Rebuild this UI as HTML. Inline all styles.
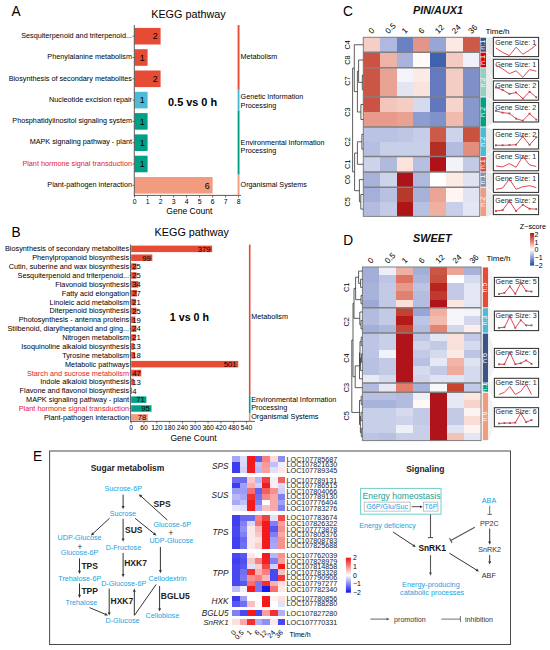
<!DOCTYPE html>
<html><head><meta charset="utf-8"><title>Figure</title>
<style>html,body{margin:0;padding:0;background:#fff;}svg{display:block;}
text{font-family:"Liberation Sans", sans-serif;}</style></head>
<body><svg width="550" height="650" viewBox="0 0 550 650">
<rect x="0" y="0" width="550" height="650" fill="#ffffff"/>
<text x="11.50" y="16.00" font-size="13.7" transform="translate(11.50 16.00) scale(1 1.1) translate(-11.50 -16.00)">A</text>
<text x="188.40" y="18.20" font-size="10.8" text-anchor="middle">KEGG pathway</text>
<rect x="134.60" y="27.90" width="26.00" height="16.60" fill="#E64B35"/>
<text x="132.00" y="37.90" font-size="7.25" text-anchor="end">Sesquiterpenoid and triterpenoid...</text>
<line x1="132.50" y1="36.20" x2="134.30" y2="36.20" stroke="#333" stroke-width="0.7"/>
<text x="157.80" y="39.40" font-size="8.9" text-anchor="end">2</text>
<rect x="134.60" y="49.20" width="13.00" height="16.60" fill="#E64B35"/>
<text x="132.00" y="59.20" font-size="7.25" text-anchor="end">Phenylalanine metabolism</text>
<line x1="132.50" y1="57.50" x2="134.30" y2="57.50" stroke="#333" stroke-width="0.7"/>
<text x="144.80" y="60.70" font-size="8.9" text-anchor="end">1</text>
<rect x="134.60" y="70.50" width="26.00" height="16.60" fill="#E64B35"/>
<text x="132.00" y="80.50" font-size="7.25" text-anchor="end">Biosynthesis of secondary metabolites</text>
<line x1="132.50" y1="78.80" x2="134.30" y2="78.80" stroke="#333" stroke-width="0.7"/>
<text x="157.80" y="82.00" font-size="8.9" text-anchor="end">2</text>
<rect x="134.60" y="91.80" width="13.00" height="16.60" fill="#4DBBD5"/>
<text x="132.00" y="101.80" font-size="7.25" text-anchor="end">Nucleotide excision repair</text>
<line x1="132.50" y1="100.10" x2="134.30" y2="100.10" stroke="#333" stroke-width="0.7"/>
<text x="144.80" y="103.30" font-size="8.9" text-anchor="end">1</text>
<rect x="134.60" y="113.10" width="13.00" height="16.60" fill="#00A087"/>
<text x="132.00" y="123.10" font-size="7.25" text-anchor="end">Phosphatidylinositol signaling system</text>
<line x1="132.50" y1="121.40" x2="134.30" y2="121.40" stroke="#333" stroke-width="0.7"/>
<text x="144.80" y="124.60" font-size="8.9" text-anchor="end">1</text>
<rect x="134.60" y="134.40" width="13.00" height="16.60" fill="#00A087"/>
<text x="132.00" y="144.40" font-size="7.25" text-anchor="end">MAPK signaling pathway - plant</text>
<line x1="132.50" y1="142.70" x2="134.30" y2="142.70" stroke="#333" stroke-width="0.7"/>
<text x="144.80" y="145.90" font-size="8.9" text-anchor="end">1</text>
<rect x="134.60" y="155.70" width="13.00" height="16.60" fill="#00A087"/>
<text x="132.00" y="165.70" font-size="7.25" text-anchor="end" fill="#E5202A">Plant hormone signal transduction</text>
<line x1="132.50" y1="164.00" x2="134.30" y2="164.00" stroke="#333" stroke-width="0.7"/>
<text x="144.80" y="167.20" font-size="8.9" text-anchor="end">1</text>
<rect x="134.60" y="177.00" width="78.00" height="16.60" fill="#F39B7F"/>
<text x="132.00" y="187.00" font-size="7.25" text-anchor="end">Plant-pathogen interaction</text>
<line x1="132.50" y1="185.30" x2="134.30" y2="185.30" stroke="#333" stroke-width="0.7"/>
<text x="209.80" y="188.50" font-size="8.9" text-anchor="end">6</text>
<line x1="134.30" y1="24.90" x2="134.30" y2="195.80" stroke="#333" stroke-width="0.8"/>
<line x1="133.90" y1="195.40" x2="241.00" y2="195.40" stroke="#333" stroke-width="0.8"/>
<line x1="134.60" y1="195.40" x2="134.60" y2="197.60" stroke="#333" stroke-width="0.7"/>
<text x="134.60" y="204.30" font-size="6.9" text-anchor="middle">0</text>
<line x1="147.60" y1="195.40" x2="147.60" y2="197.60" stroke="#333" stroke-width="0.7"/>
<text x="147.60" y="204.30" font-size="6.9" text-anchor="middle">1</text>
<line x1="160.60" y1="195.40" x2="160.60" y2="197.60" stroke="#333" stroke-width="0.7"/>
<text x="160.60" y="204.30" font-size="6.9" text-anchor="middle">2</text>
<line x1="173.60" y1="195.40" x2="173.60" y2="197.60" stroke="#333" stroke-width="0.7"/>
<text x="173.60" y="204.30" font-size="6.9" text-anchor="middle">3</text>
<line x1="186.60" y1="195.40" x2="186.60" y2="197.60" stroke="#333" stroke-width="0.7"/>
<text x="186.60" y="204.30" font-size="6.9" text-anchor="middle">4</text>
<line x1="199.60" y1="195.40" x2="199.60" y2="197.60" stroke="#333" stroke-width="0.7"/>
<text x="199.60" y="204.30" font-size="6.9" text-anchor="middle">5</text>
<line x1="212.60" y1="195.40" x2="212.60" y2="197.60" stroke="#333" stroke-width="0.7"/>
<text x="212.60" y="204.30" font-size="6.9" text-anchor="middle">6</text>
<line x1="225.60" y1="195.40" x2="225.60" y2="197.60" stroke="#333" stroke-width="0.7"/>
<text x="225.60" y="204.30" font-size="6.9" text-anchor="middle">7</text>
<line x1="238.60" y1="195.40" x2="238.60" y2="197.60" stroke="#333" stroke-width="0.7"/>
<text x="238.60" y="204.30" font-size="6.9" text-anchor="middle">8</text>
<text x="189.30" y="213.60" font-size="8.55" text-anchor="middle">Gene Count</text>
<text x="192.60" y="106.10" font-size="10.9" text-anchor="middle" font-weight="bold">0.5 vs 0 h</text>
<rect x="237.60" y="25.10" width="1.90" height="64.70" fill="#E64B35"/>
<rect x="237.60" y="89.80" width="1.90" height="20.80" fill="#4DBBD5"/>
<rect x="237.60" y="110.60" width="1.90" height="64.00" fill="#00A087"/>
<rect x="237.60" y="174.60" width="1.90" height="20.70" fill="#F39B7F"/>
<text x="240.60" y="59.40" font-size="7.2">Metabolism</text>
<text x="240.60" y="99.20" font-size="7.2">Genetic Information</text>
<text x="240.60" y="107.80" font-size="7.2">Processing</text>
<text x="240.60" y="144.80" font-size="7.2">Environmental Information</text>
<text x="240.60" y="153.40" font-size="7.2">Processing</text>
<text x="240.60" y="187.00" font-size="7.2">Organismal Systems</text>
<text x="11.40" y="237.50" font-size="13.7" transform="translate(11.40 237.50) scale(1 1.1) translate(-11.40 -237.50)">B</text>
<text x="191.80" y="236.30" font-size="10.8" text-anchor="middle">KEGG pathway</text>
<rect x="131.20" y="245.60" width="80.95" height="6.50" fill="#E64B35"/>
<text x="129.10" y="251.35" font-size="7.3" text-anchor="end">Biosynthesis of secondary metabolites</text>
<line x1="129.60" y1="248.85" x2="130.60" y2="248.85" stroke="#333" stroke-width="0.6"/>
<text x="210.55" y="251.65" font-size="7.7" text-anchor="end">379</text>
<rect x="131.20" y="254.47" width="21.15" height="6.50" fill="#E64B35"/>
<text x="129.10" y="260.22" font-size="7.3" text-anchor="end">Phenylpropanoid biosynthesis</text>
<line x1="129.60" y1="257.72" x2="130.60" y2="257.72" stroke="#333" stroke-width="0.6"/>
<text x="150.75" y="260.52" font-size="7.7" text-anchor="end">99</text>
<rect x="131.20" y="263.34" width="5.34" height="6.50" fill="#E64B35"/>
<text x="129.10" y="269.09" font-size="7.3" text-anchor="end">Cutin, suberine and wax biosynthesis</text>
<line x1="129.60" y1="266.59" x2="130.60" y2="266.59" stroke="#333" stroke-width="0.6"/>
<text x="140.86" y="269.39" font-size="7.7" text-anchor="end">25</text>
<rect x="131.20" y="272.21" width="5.34" height="6.50" fill="#E64B35"/>
<text x="129.10" y="277.96" font-size="7.3" text-anchor="end">Sesquiterpenoid and triterpenoid...</text>
<line x1="129.60" y1="275.46" x2="130.60" y2="275.46" stroke="#333" stroke-width="0.6"/>
<text x="140.86" y="278.26" font-size="7.7" text-anchor="end">25</text>
<rect x="131.20" y="281.08" width="7.26" height="6.50" fill="#E64B35"/>
<text x="129.10" y="286.83" font-size="7.3" text-anchor="end">Flavonoid biosynthesis</text>
<line x1="129.60" y1="284.33" x2="130.60" y2="284.33" stroke="#333" stroke-width="0.6"/>
<text x="140.86" y="287.13" font-size="7.7" text-anchor="end">34</text>
<rect x="131.20" y="289.95" width="5.77" height="6.50" fill="#E64B35"/>
<text x="129.10" y="295.70" font-size="7.3" text-anchor="end">Fatty acid elongation</text>
<line x1="129.60" y1="293.20" x2="130.60" y2="293.20" stroke="#333" stroke-width="0.6"/>
<text x="140.86" y="296.00" font-size="7.7" text-anchor="end">27</text>
<rect x="131.20" y="298.82" width="4.49" height="6.50" fill="#E64B35"/>
<text x="129.10" y="304.57" font-size="7.3" text-anchor="end">Linoleic acid metabolism</text>
<line x1="129.60" y1="302.07" x2="130.60" y2="302.07" stroke="#333" stroke-width="0.6"/>
<text x="140.86" y="304.87" font-size="7.7" text-anchor="end">21</text>
<rect x="131.20" y="307.69" width="5.34" height="6.50" fill="#E64B35"/>
<text x="129.10" y="313.44" font-size="7.3" text-anchor="end">Diterpenoid biosynthesis</text>
<line x1="129.60" y1="310.94" x2="130.60" y2="310.94" stroke="#333" stroke-width="0.6"/>
<text x="140.86" y="313.74" font-size="7.7" text-anchor="end">25</text>
<rect x="131.20" y="316.56" width="4.06" height="6.50" fill="#E64B35"/>
<text x="129.10" y="322.31" font-size="7.3" text-anchor="end">Photosynthesis - antenna proteins</text>
<line x1="129.60" y1="319.81" x2="130.60" y2="319.81" stroke="#333" stroke-width="0.6"/>
<text x="140.86" y="322.61" font-size="7.7" text-anchor="end">19</text>
<rect x="131.20" y="325.43" width="5.13" height="6.50" fill="#E64B35"/>
<text x="129.10" y="331.18" font-size="7.3" text-anchor="end">Stilbenoid, diarylheptanoid and ging...</text>
<line x1="129.60" y1="328.68" x2="130.60" y2="328.68" stroke="#333" stroke-width="0.6"/>
<text x="140.86" y="331.48" font-size="7.7" text-anchor="end">24</text>
<rect x="131.20" y="334.30" width="4.49" height="6.50" fill="#E64B35"/>
<text x="129.10" y="340.05" font-size="7.3" text-anchor="end">Nitrogen metabolism</text>
<line x1="129.60" y1="337.55" x2="130.60" y2="337.55" stroke="#333" stroke-width="0.6"/>
<text x="140.86" y="340.35" font-size="7.7" text-anchor="end">21</text>
<rect x="131.20" y="343.17" width="2.78" height="6.50" fill="#E64B35"/>
<text x="129.10" y="348.92" font-size="7.3" text-anchor="end">Isoquinoline alkaloid biosynthesis</text>
<line x1="129.60" y1="346.42" x2="130.60" y2="346.42" stroke="#333" stroke-width="0.6"/>
<text x="140.86" y="349.22" font-size="7.7" text-anchor="end">13</text>
<rect x="131.20" y="352.04" width="3.84" height="6.50" fill="#E64B35"/>
<text x="129.10" y="357.79" font-size="7.3" text-anchor="end">Tyrosine metabolism</text>
<line x1="129.60" y1="355.29" x2="130.60" y2="355.29" stroke="#333" stroke-width="0.6"/>
<text x="140.86" y="358.09" font-size="7.7" text-anchor="end">18</text>
<rect x="131.20" y="360.91" width="107.01" height="6.50" fill="#E64B35"/>
<text x="129.10" y="366.66" font-size="7.3" text-anchor="end">Metabolic pathways</text>
<line x1="129.60" y1="364.16" x2="130.60" y2="364.16" stroke="#333" stroke-width="0.6"/>
<text x="236.61" y="366.96" font-size="7.7" text-anchor="end">501</text>
<rect x="131.20" y="369.78" width="10.04" height="6.50" fill="#E64B35"/>
<text x="129.10" y="375.53" font-size="7.3" text-anchor="end" fill="#E5202A">Starch and sucrose metabolism</text>
<line x1="129.60" y1="373.03" x2="130.60" y2="373.03" stroke="#333" stroke-width="0.6"/>
<text x="140.86" y="375.83" font-size="7.7" text-anchor="end">47</text>
<rect x="131.20" y="378.65" width="2.78" height="6.50" fill="#E64B35"/>
<text x="129.10" y="384.40" font-size="7.3" text-anchor="end">Indole alkaloid biosynthesis</text>
<line x1="129.60" y1="381.90" x2="130.60" y2="381.90" stroke="#333" stroke-width="0.6"/>
<text x="140.86" y="384.70" font-size="7.7" text-anchor="end">13</text>
<rect x="131.20" y="387.52" width="0.85" height="6.50" fill="#E64B35"/>
<text x="129.10" y="393.27" font-size="7.3" text-anchor="end">Flavone and flavonol biosynthesis</text>
<line x1="129.60" y1="390.77" x2="130.60" y2="390.77" stroke="#333" stroke-width="0.6"/>
<text x="136.58" y="393.57" font-size="7.7" text-anchor="end">4</text>
<rect x="131.20" y="396.39" width="15.17" height="6.50" fill="#00A087"/>
<text x="129.10" y="402.14" font-size="7.3" text-anchor="end">MAPK signaling pathway - plant</text>
<line x1="129.60" y1="399.64" x2="130.60" y2="399.64" stroke="#333" stroke-width="0.6"/>
<text x="144.77" y="402.44" font-size="7.7" text-anchor="end">71</text>
<rect x="131.20" y="405.26" width="20.29" height="6.50" fill="#00A087"/>
<text x="129.10" y="411.01" font-size="7.3" text-anchor="end" fill="#E5202A">Plant hormone signal transduction</text>
<line x1="129.60" y1="408.51" x2="130.60" y2="408.51" stroke="#333" stroke-width="0.6"/>
<text x="149.89" y="411.31" font-size="7.7" text-anchor="end">95</text>
<rect x="131.20" y="414.13" width="16.66" height="6.50" fill="#F39B7F"/>
<text x="129.10" y="419.88" font-size="7.3" text-anchor="end">Plant-pathogen interaction</text>
<line x1="129.60" y1="417.38" x2="130.60" y2="417.38" stroke="#333" stroke-width="0.6"/>
<text x="146.26" y="420.18" font-size="7.7" text-anchor="end">78</text>
<line x1="130.60" y1="244.50" x2="130.60" y2="421.80" stroke="#333" stroke-width="0.8"/>
<line x1="130.20" y1="421.40" x2="255.00" y2="421.40" stroke="#333" stroke-width="0.8"/>
<line x1="131.20" y1="421.40" x2="131.20" y2="423.40" stroke="#333" stroke-width="0.7"/>
<text x="131.20" y="429.80" font-size="6.8" text-anchor="middle">0</text>
<line x1="144.02" y1="421.40" x2="144.02" y2="423.40" stroke="#333" stroke-width="0.7"/>
<text x="144.02" y="429.80" font-size="6.8" text-anchor="middle">60</text>
<line x1="156.83" y1="421.40" x2="156.83" y2="423.40" stroke="#333" stroke-width="0.7"/>
<text x="156.83" y="429.80" font-size="6.8" text-anchor="middle">120</text>
<line x1="169.65" y1="421.40" x2="169.65" y2="423.40" stroke="#333" stroke-width="0.7"/>
<text x="169.65" y="429.80" font-size="6.8" text-anchor="middle">180</text>
<line x1="182.46" y1="421.40" x2="182.46" y2="423.40" stroke="#333" stroke-width="0.7"/>
<text x="182.46" y="429.80" font-size="6.8" text-anchor="middle">240</text>
<line x1="195.28" y1="421.40" x2="195.28" y2="423.40" stroke="#333" stroke-width="0.7"/>
<text x="195.28" y="429.80" font-size="6.8" text-anchor="middle">300</text>
<line x1="208.10" y1="421.40" x2="208.10" y2="423.40" stroke="#333" stroke-width="0.7"/>
<text x="208.10" y="429.80" font-size="6.8" text-anchor="middle">360</text>
<line x1="220.91" y1="421.40" x2="220.91" y2="423.40" stroke="#333" stroke-width="0.7"/>
<text x="220.91" y="429.80" font-size="6.8" text-anchor="middle">420</text>
<line x1="233.73" y1="421.40" x2="233.73" y2="423.40" stroke="#333" stroke-width="0.7"/>
<text x="233.73" y="429.80" font-size="6.8" text-anchor="middle">480</text>
<line x1="246.54" y1="421.40" x2="246.54" y2="423.40" stroke="#333" stroke-width="0.7"/>
<text x="246.54" y="429.80" font-size="6.8" text-anchor="middle">540</text>
<text x="193.50" y="440.90" font-size="8.55" text-anchor="middle">Gene Count</text>
<text x="189.40" y="321.20" font-size="10.7" text-anchor="middle" font-weight="bold">1 vs 0 h</text>
<rect x="248.90" y="244.60" width="1.60" height="150.60" fill="#E64B35"/>
<rect x="248.90" y="395.20" width="1.60" height="17.80" fill="#00A087"/>
<rect x="248.90" y="413.00" width="1.60" height="8.30" fill="#F39B7F"/>
<text x="251.20" y="319.20" font-size="7.2">Metabolism</text>
<text x="251.20" y="401.90" font-size="7.3">Environmental Information</text>
<text x="251.20" y="410.10" font-size="7.3">Processing</text>
<text x="251.20" y="418.70" font-size="7.3">Organismal Systems</text>
<text x="342.90" y="16.10" font-size="13.7" transform="translate(342.90 16.10) scale(1 1.1) translate(-342.90 -16.10)">C</text>
<text x="413.10" y="14.40" font-size="10.8" font-weight="bold" font-style="italic" fill="#111">PIN/AUX1</text>
<text x="371.81" y="34.30" font-size="8.1" transform="rotate(-45 371.81 34.30)">0</text>
<text x="388.44" y="34.30" font-size="8.1" transform="rotate(-45 388.44 34.30)">0.5</text>
<text x="405.07" y="34.30" font-size="8.1" transform="rotate(-45 405.07 34.30)">1</text>
<text x="421.70" y="34.30" font-size="8.1" transform="rotate(-45 421.70 34.30)">6</text>
<text x="438.33" y="34.30" font-size="8.1" transform="rotate(-45 438.33 34.30)">12</text>
<text x="454.96" y="34.30" font-size="8.1" transform="rotate(-45 454.96 34.30)">24</text>
<text x="471.59" y="34.30" font-size="8.1" transform="rotate(-45 471.59 34.30)">36</text>
<text x="485.40" y="33.60" font-size="8.0">Time/h</text>
<rect x="363.30" y="37.30" width="116.41" height="14.90" fill="#F5CFC6" shape-rendering="crispEdges"/>
<rect x="379.93" y="37.30" width="99.78" height="14.90" fill="#AFB8DE" shape-rendering="crispEdges"/>
<rect x="396.56" y="37.30" width="83.15" height="14.90" fill="#6A82C4" shape-rendering="crispEdges"/>
<rect x="413.19" y="37.30" width="66.52" height="14.90" fill="#E4958A" shape-rendering="crispEdges"/>
<rect x="429.82" y="37.30" width="49.89" height="14.90" fill="#98A6D5" shape-rendering="crispEdges"/>
<rect x="446.45" y="37.30" width="33.26" height="14.90" fill="#FCE9E4" shape-rendering="crispEdges"/>
<rect x="463.08" y="37.30" width="16.63" height="14.90" fill="#CD5A48" shape-rendering="crispEdges"/>
<rect x="480.50" y="37.75" width="5.50" height="14.00" fill="#3C5488"/>
<text x="485.15" y="44.75" font-size="7.2" text-anchor="middle" fill="#ffffff" transform="rotate(-90 485.15 44.75)">n:1</text>
<text x="349.90" y="44.75" font-size="7.3" text-anchor="middle" transform="rotate(-90 349.90 44.75)">C4</text>
<rect x="363.30" y="52.20" width="116.41" height="15.60" fill="#CC5343" shape-rendering="crispEdges"/>
<rect x="379.93" y="52.20" width="99.78" height="15.60" fill="#EDB3A6" shape-rendering="crispEdges"/>
<rect x="396.56" y="52.20" width="83.15" height="15.60" fill="#A9B3DB" shape-rendering="crispEdges"/>
<rect x="413.19" y="52.20" width="66.52" height="15.60" fill="#FFFAF8" shape-rendering="crispEdges"/>
<rect x="429.82" y="52.20" width="49.89" height="15.60" fill="#3E62B0" shape-rendering="crispEdges"/>
<rect x="446.45" y="52.20" width="33.26" height="15.60" fill="#F4CBC1" shape-rendering="crispEdges"/>
<rect x="463.08" y="52.20" width="16.63" height="15.60" fill="#EEEFF8" shape-rendering="crispEdges"/>
<rect x="480.50" y="52.65" width="5.50" height="14.70" fill="#DC0000"/>
<text x="485.15" y="60.00" font-size="7.2" text-anchor="middle" fill="#ffffff" transform="rotate(-90 485.15 60.00)">n:1</text>
<text x="349.90" y="60.00" font-size="7.3" text-anchor="middle" transform="rotate(-90 349.90 60.00)">C8</text>
<rect x="363.30" y="67.80" width="116.41" height="29.20" fill="#CC5646" shape-rendering="crispEdges"/>
<rect x="379.93" y="67.80" width="99.78" height="29.20" fill="#E9A394" shape-rendering="crispEdges"/>
<rect x="396.56" y="67.80" width="83.15" height="29.20" fill="#F4F4FA" shape-rendering="crispEdges"/>
<rect x="413.19" y="67.80" width="66.52" height="29.20" fill="#FBEBE7" shape-rendering="crispEdges"/>
<rect x="429.82" y="67.80" width="49.89" height="29.20" fill="#6479BE" shape-rendering="crispEdges"/>
<rect x="446.45" y="67.80" width="33.26" height="29.20" fill="#F3CDC4" shape-rendering="crispEdges"/>
<rect x="463.08" y="67.80" width="16.63" height="29.20" fill="#7F90C9" shape-rendering="crispEdges"/>
<rect x="363.30" y="82.40" width="116.41" height="14.60" fill="#CC5646" shape-rendering="crispEdges"/>
<rect x="379.93" y="82.40" width="99.78" height="14.60" fill="#E9A394" shape-rendering="crispEdges"/>
<rect x="396.56" y="82.40" width="83.15" height="14.60" fill="#E3E5F2" shape-rendering="crispEdges"/>
<rect x="413.19" y="82.40" width="66.52" height="14.60" fill="#F9E3DC" shape-rendering="crispEdges"/>
<rect x="429.82" y="82.40" width="49.89" height="14.60" fill="#6479BE" shape-rendering="crispEdges"/>
<rect x="446.45" y="82.40" width="33.26" height="14.60" fill="#F3CDC4" shape-rendering="crispEdges"/>
<rect x="463.08" y="82.40" width="16.63" height="14.60" fill="#7F90C9" shape-rendering="crispEdges"/>
<rect x="480.50" y="68.25" width="5.50" height="28.30" fill="#91D1C2"/>
<text x="485.15" y="82.40" font-size="7.2" text-anchor="middle" fill="#ffffff" transform="rotate(-90 485.15 82.40)">n:2</text>
<text x="349.90" y="81.10" font-size="7.3" text-anchor="middle" transform="rotate(-90 349.90 81.10)">C7</text>
<rect x="363.30" y="97.00" width="116.41" height="30.00" fill="#CB5244" shape-rendering="crispEdges"/>
<rect x="379.93" y="97.00" width="99.78" height="30.00" fill="#F3C5BB" shape-rendering="crispEdges"/>
<rect x="396.56" y="97.00" width="83.15" height="30.00" fill="#F5CDC4" shape-rendering="crispEdges"/>
<rect x="413.19" y="97.00" width="66.52" height="30.00" fill="#D5DAEE" shape-rendering="crispEdges"/>
<rect x="429.82" y="97.00" width="49.89" height="30.00" fill="#6277BD" shape-rendering="crispEdges"/>
<rect x="446.45" y="97.00" width="33.26" height="30.00" fill="#F6D3CB" shape-rendering="crispEdges"/>
<rect x="463.08" y="97.00" width="16.63" height="30.00" fill="#8898CC" shape-rendering="crispEdges"/>
<rect x="363.30" y="112.00" width="116.41" height="15.00" fill="#E89A8C" shape-rendering="crispEdges"/>
<rect x="379.93" y="112.00" width="99.78" height="15.00" fill="#E89A8C" shape-rendering="crispEdges"/>
<rect x="396.56" y="112.00" width="83.15" height="15.00" fill="#E9A292" shape-rendering="crispEdges"/>
<rect x="413.19" y="112.00" width="66.52" height="15.00" fill="#8C9DD0" shape-rendering="crispEdges"/>
<rect x="429.82" y="112.00" width="49.89" height="15.00" fill="#8191CA" shape-rendering="crispEdges"/>
<rect x="446.45" y="112.00" width="33.26" height="15.00" fill="#F0BBAE" shape-rendering="crispEdges"/>
<rect x="463.08" y="112.00" width="16.63" height="15.00" fill="#8898CC" shape-rendering="crispEdges"/>
<rect x="480.50" y="97.45" width="5.50" height="29.10" fill="#00A087"/>
<text x="485.15" y="112.00" font-size="7.2" text-anchor="middle" fill="#ffffff" transform="rotate(-90 485.15 112.00)">n:2</text>
<text x="349.90" y="112.00" font-size="7.3" text-anchor="middle" transform="rotate(-90 349.90 112.00)">C3</text>
<rect x="363.30" y="127.00" width="116.41" height="29.60" fill="#BAC3E3" shape-rendering="crispEdges"/>
<rect x="379.93" y="127.00" width="99.78" height="29.60" fill="#BAC3E3" shape-rendering="crispEdges"/>
<rect x="396.56" y="127.00" width="83.15" height="29.60" fill="#BDC6E5" shape-rendering="crispEdges"/>
<rect x="413.19" y="127.00" width="66.52" height="29.60" fill="#C6CDE8" shape-rendering="crispEdges"/>
<rect x="429.82" y="127.00" width="49.89" height="29.60" fill="#CC5A48" shape-rendering="crispEdges"/>
<rect x="446.45" y="127.00" width="33.26" height="29.60" fill="#CDD3EB" shape-rendering="crispEdges"/>
<rect x="463.08" y="127.00" width="16.63" height="29.60" fill="#C9513F" shape-rendering="crispEdges"/>
<rect x="363.30" y="141.80" width="116.41" height="14.80" fill="#B5BFE1" shape-rendering="crispEdges"/>
<rect x="379.93" y="141.80" width="99.78" height="14.80" fill="#C8CFE9" shape-rendering="crispEdges"/>
<rect x="396.56" y="141.80" width="83.15" height="14.80" fill="#C8CFE9" shape-rendering="crispEdges"/>
<rect x="413.19" y="141.80" width="66.52" height="14.80" fill="#C8CFE9" shape-rendering="crispEdges"/>
<rect x="429.82" y="141.80" width="49.89" height="14.80" fill="#B52E24" shape-rendering="crispEdges"/>
<rect x="446.45" y="141.80" width="33.26" height="14.80" fill="#B3BCDF" shape-rendering="crispEdges"/>
<rect x="463.08" y="141.80" width="16.63" height="14.80" fill="#E28D7E" shape-rendering="crispEdges"/>
<rect x="480.50" y="127.45" width="5.50" height="28.70" fill="#4DBBD5"/>
<text x="485.15" y="141.80" font-size="7.2" text-anchor="middle" fill="#ffffff" transform="rotate(-90 485.15 141.80)">n:2</text>
<text x="349.90" y="141.80" font-size="7.3" text-anchor="middle" transform="rotate(-90 349.90 141.80)">C2</text>
<rect x="363.30" y="156.60" width="116.41" height="15.40" fill="#CDD3EB" shape-rendering="crispEdges"/>
<rect x="379.93" y="156.60" width="99.78" height="15.40" fill="#B0BADD" shape-rendering="crispEdges"/>
<rect x="396.56" y="156.60" width="83.15" height="15.40" fill="#FCE3DC" shape-rendering="crispEdges"/>
<rect x="413.19" y="156.60" width="66.52" height="15.40" fill="#B6BFE1" shape-rendering="crispEdges"/>
<rect x="429.82" y="156.60" width="49.89" height="15.40" fill="#B01018" shape-rendering="crispEdges"/>
<rect x="446.45" y="156.60" width="33.26" height="15.40" fill="#F2F3F9" shape-rendering="crispEdges"/>
<rect x="463.08" y="156.60" width="16.63" height="15.40" fill="#C3CAE6" shape-rendering="crispEdges"/>
<rect x="480.50" y="157.05" width="5.50" height="14.50" fill="#E64B35"/>
<text x="485.15" y="164.30" font-size="7.2" text-anchor="middle" fill="#ffffff" transform="rotate(-90 485.15 164.30)">n:1</text>
<text x="349.90" y="164.30" font-size="7.3" text-anchor="middle" transform="rotate(-90 349.90 164.30)">C1</text>
<rect x="363.30" y="172.00" width="116.41" height="15.20" fill="#A8B3DA" shape-rendering="crispEdges"/>
<rect x="379.93" y="172.00" width="99.78" height="15.20" fill="#CDD3EB" shape-rendering="crispEdges"/>
<rect x="396.56" y="172.00" width="83.15" height="15.20" fill="#AE1319" shape-rendering="crispEdges"/>
<rect x="413.19" y="172.00" width="66.52" height="15.20" fill="#AFB8DD" shape-rendering="crispEdges"/>
<rect x="429.82" y="172.00" width="49.89" height="15.20" fill="#FFFFFF" shape-rendering="crispEdges"/>
<rect x="446.45" y="172.00" width="33.26" height="15.20" fill="#FCEAE5" shape-rendering="crispEdges"/>
<rect x="463.08" y="172.00" width="16.63" height="15.20" fill="#DFE2F1" shape-rendering="crispEdges"/>
<rect x="480.50" y="172.45" width="5.50" height="14.30" fill="#8491B4"/>
<text x="485.15" y="179.60" font-size="7.2" text-anchor="middle" fill="#ffffff" transform="rotate(-90 485.15 179.60)">n:1</text>
<text x="349.90" y="179.60" font-size="7.3" text-anchor="middle" transform="rotate(-90 349.90 179.60)">C6</text>
<rect x="363.30" y="187.20" width="116.41" height="29.20" fill="#A5B0D8" shape-rendering="crispEdges"/>
<rect x="379.93" y="187.20" width="99.78" height="29.20" fill="#B9C1E2" shape-rendering="crispEdges"/>
<rect x="396.56" y="187.20" width="83.15" height="29.20" fill="#B53A2A" shape-rendering="crispEdges"/>
<rect x="413.19" y="187.20" width="66.52" height="29.20" fill="#A7B2D9" shape-rendering="crispEdges"/>
<rect x="429.82" y="187.20" width="49.89" height="29.20" fill="#EAA596" shape-rendering="crispEdges"/>
<rect x="446.45" y="187.20" width="33.26" height="29.20" fill="#FFF5F2" shape-rendering="crispEdges"/>
<rect x="463.08" y="187.20" width="16.63" height="29.20" fill="#E0E3F1" shape-rendering="crispEdges"/>
<rect x="363.30" y="201.80" width="116.41" height="14.60" fill="#B3BCDF" shape-rendering="crispEdges"/>
<rect x="379.93" y="201.80" width="99.78" height="14.60" fill="#C4CBE7" shape-rendering="crispEdges"/>
<rect x="396.56" y="201.80" width="83.15" height="14.60" fill="#B01418" shape-rendering="crispEdges"/>
<rect x="413.19" y="201.80" width="66.52" height="14.60" fill="#B9C1E2" shape-rendering="crispEdges"/>
<rect x="429.82" y="201.80" width="49.89" height="14.60" fill="#EFB0A2" shape-rendering="crispEdges"/>
<rect x="446.45" y="201.80" width="33.26" height="14.60" fill="#C8CFE9" shape-rendering="crispEdges"/>
<rect x="463.08" y="201.80" width="16.63" height="14.60" fill="#E3E6F3" shape-rendering="crispEdges"/>
<rect x="480.50" y="187.65" width="5.50" height="28.30" fill="#F39B7F"/>
<text x="485.15" y="201.80" font-size="7.2" text-anchor="middle" fill="#ffffff" transform="rotate(-90 485.15 201.80)">n:2</text>
<text x="349.90" y="201.80" font-size="7.3" text-anchor="middle" transform="rotate(-90 349.90 201.80)">C5</text>
<line x1="363.30" y1="52.20" x2="479.71" y2="52.20" stroke="#808080" stroke-width="1.5"/>
<line x1="363.30" y1="67.80" x2="479.71" y2="67.80" stroke="#808080" stroke-width="1.5"/>
<line x1="363.30" y1="97.00" x2="479.71" y2="97.00" stroke="#808080" stroke-width="1.5"/>
<line x1="363.30" y1="127.00" x2="479.71" y2="127.00" stroke="#808080" stroke-width="1.5"/>
<line x1="363.30" y1="156.60" x2="479.71" y2="156.60" stroke="#808080" stroke-width="1.5"/>
<line x1="363.30" y1="172.00" x2="479.71" y2="172.00" stroke="#808080" stroke-width="1.5"/>
<line x1="363.30" y1="187.20" x2="479.71" y2="187.20" stroke="#808080" stroke-width="1.5"/>
<rect x="363.30" y="37.30" width="116.41" height="179.10" fill="none" stroke="#808080" stroke-width="1"/>
<text x="343.20" y="244.80" font-size="13.7" transform="translate(343.20 244.80) scale(1 1.1) translate(-343.20 -244.80)">D</text>
<text x="413.10" y="241.80" font-size="10.8" font-weight="bold" font-style="italic" fill="#111">SWEET</text>
<text x="371.07" y="264.10" font-size="8.1" transform="rotate(-45 371.07 264.10)">0</text>
<text x="388.02" y="264.10" font-size="8.1" transform="rotate(-45 388.02 264.10)">0.5</text>
<text x="404.97" y="264.10" font-size="8.1" transform="rotate(-45 404.97 264.10)">1</text>
<text x="421.92" y="264.10" font-size="8.1" transform="rotate(-45 421.92 264.10)">6</text>
<text x="438.87" y="264.10" font-size="8.1" transform="rotate(-45 438.87 264.10)">12</text>
<text x="455.82" y="264.10" font-size="8.1" transform="rotate(-45 455.82 264.10)">24</text>
<text x="472.77" y="264.10" font-size="8.1" transform="rotate(-45 472.77 264.10)">36</text>
<text x="486.40" y="261.40" font-size="8.0">Time/h</text>
<rect x="362.40" y="267.00" width="118.65" height="40.80" fill="#A3AFD8" shape-rendering="crispEdges"/>
<rect x="379.35" y="267.00" width="101.70" height="40.80" fill="#EDEEF7" shape-rendering="crispEdges"/>
<rect x="396.30" y="267.00" width="84.75" height="40.80" fill="#EDB0A4" shape-rendering="crispEdges"/>
<rect x="413.25" y="267.00" width="67.80" height="40.80" fill="#A3AFD8" shape-rendering="crispEdges"/>
<rect x="430.20" y="267.00" width="50.85" height="40.80" fill="#CC5646" shape-rendering="crispEdges"/>
<rect x="447.15" y="267.00" width="33.90" height="40.80" fill="#EBA395" shape-rendering="crispEdges"/>
<rect x="464.10" y="267.00" width="16.95" height="40.80" fill="#A9B3DA" shape-rendering="crispEdges"/>
<rect x="362.40" y="275.16" width="118.65" height="32.64" fill="#A3AFD8" shape-rendering="crispEdges"/>
<rect x="379.35" y="275.16" width="101.70" height="32.64" fill="#BCC5E4" shape-rendering="crispEdges"/>
<rect x="396.30" y="275.16" width="84.75" height="32.64" fill="#DE7363" shape-rendering="crispEdges"/>
<rect x="413.25" y="275.16" width="67.80" height="32.64" fill="#ABB6DB" shape-rendering="crispEdges"/>
<rect x="430.20" y="275.16" width="50.85" height="32.64" fill="#C84E3E" shape-rendering="crispEdges"/>
<rect x="447.15" y="275.16" width="33.90" height="32.64" fill="#FFFFFF" shape-rendering="crispEdges"/>
<rect x="464.10" y="275.16" width="16.95" height="32.64" fill="#D5DAEE" shape-rendering="crispEdges"/>
<rect x="362.40" y="283.32" width="118.65" height="24.48" fill="#A8B3DA" shape-rendering="crispEdges"/>
<rect x="379.35" y="283.32" width="101.70" height="24.48" fill="#C3CAE6" shape-rendering="crispEdges"/>
<rect x="396.30" y="283.32" width="84.75" height="24.48" fill="#E8998A" shape-rendering="crispEdges"/>
<rect x="413.25" y="283.32" width="67.80" height="24.48" fill="#BCC4E3" shape-rendering="crispEdges"/>
<rect x="430.20" y="283.32" width="50.85" height="24.48" fill="#B82420" shape-rendering="crispEdges"/>
<rect x="447.15" y="283.32" width="33.90" height="24.48" fill="#C3CAE6" shape-rendering="crispEdges"/>
<rect x="464.10" y="283.32" width="16.95" height="24.48" fill="#E3E6F3" shape-rendering="crispEdges"/>
<rect x="362.40" y="291.48" width="118.65" height="16.32" fill="#A8B3DA" shape-rendering="crispEdges"/>
<rect x="379.35" y="291.48" width="101.70" height="16.32" fill="#C3CAE6" shape-rendering="crispEdges"/>
<rect x="396.30" y="291.48" width="84.75" height="16.32" fill="#E1806F" shape-rendering="crispEdges"/>
<rect x="413.25" y="291.48" width="67.80" height="16.32" fill="#B4BDE0" shape-rendering="crispEdges"/>
<rect x="430.20" y="291.48" width="50.85" height="16.32" fill="#C0392E" shape-rendering="crispEdges"/>
<rect x="447.15" y="291.48" width="33.90" height="16.32" fill="#C3CAE6" shape-rendering="crispEdges"/>
<rect x="464.10" y="291.48" width="16.95" height="16.32" fill="#E3E6F3" shape-rendering="crispEdges"/>
<rect x="362.40" y="299.64" width="118.65" height="8.16" fill="#9EAAD6" shape-rendering="crispEdges"/>
<rect x="379.35" y="299.64" width="101.70" height="8.16" fill="#C0C8E5" shape-rendering="crispEdges"/>
<rect x="396.30" y="299.64" width="84.75" height="8.16" fill="#FBE0D8" shape-rendering="crispEdges"/>
<rect x="413.25" y="299.64" width="67.80" height="8.16" fill="#B4BDE0" shape-rendering="crispEdges"/>
<rect x="430.20" y="299.64" width="50.85" height="8.16" fill="#B0141A" shape-rendering="crispEdges"/>
<rect x="447.15" y="299.64" width="33.90" height="8.16" fill="#FBE6E0" shape-rendering="crispEdges"/>
<rect x="464.10" y="299.64" width="16.95" height="8.16" fill="#E3E6F3" shape-rendering="crispEdges"/>
<rect x="482.80" y="267.45" width="5.40" height="39.90" fill="#E64B35"/>
<text x="487.40" y="287.40" font-size="7.2" text-anchor="middle" fill="#ffffff" transform="rotate(-90 487.40 287.40)">n:5</text>
<text x="348.60" y="287.40" font-size="7.3" text-anchor="middle" transform="rotate(-90 348.60 287.40)">C1</text>
<rect x="362.40" y="307.80" width="118.65" height="25.30" fill="#B3BCDF" shape-rendering="crispEdges"/>
<rect x="379.35" y="307.80" width="101.70" height="25.30" fill="#C3CAE6" shape-rendering="crispEdges"/>
<rect x="396.30" y="307.80" width="84.75" height="25.30" fill="#C24331" shape-rendering="crispEdges"/>
<rect x="413.25" y="307.80" width="67.80" height="25.30" fill="#98A6D5" shape-rendering="crispEdges"/>
<rect x="430.20" y="307.80" width="50.85" height="25.30" fill="#EFB0A2" shape-rendering="crispEdges"/>
<rect x="447.15" y="307.80" width="33.90" height="25.30" fill="#F5F5FA" shape-rendering="crispEdges"/>
<rect x="464.10" y="307.80" width="16.95" height="25.30" fill="#F3F4F9" shape-rendering="crispEdges"/>
<rect x="362.40" y="316.23" width="118.65" height="16.87" fill="#B3BCDF" shape-rendering="crispEdges"/>
<rect x="379.35" y="316.23" width="101.70" height="16.87" fill="#C3CAE6" shape-rendering="crispEdges"/>
<rect x="396.30" y="316.23" width="84.75" height="16.87" fill="#B51A1B" shape-rendering="crispEdges"/>
<rect x="413.25" y="316.23" width="67.80" height="16.87" fill="#BDC5E4" shape-rendering="crispEdges"/>
<rect x="430.20" y="316.23" width="50.85" height="16.87" fill="#F1BBAE" shape-rendering="crispEdges"/>
<rect x="447.15" y="316.23" width="33.90" height="16.87" fill="#F5F5FA" shape-rendering="crispEdges"/>
<rect x="464.10" y="316.23" width="16.95" height="16.87" fill="#D2D7EC" shape-rendering="crispEdges"/>
<rect x="362.40" y="324.67" width="118.65" height="8.43" fill="#A3AFD8" shape-rendering="crispEdges"/>
<rect x="379.35" y="324.67" width="101.70" height="8.43" fill="#AEB8DC" shape-rendering="crispEdges"/>
<rect x="396.30" y="324.67" width="84.75" height="8.43" fill="#C54434" shape-rendering="crispEdges"/>
<rect x="413.25" y="324.67" width="67.80" height="8.43" fill="#B4BDE0" shape-rendering="crispEdges"/>
<rect x="430.20" y="324.67" width="50.85" height="8.43" fill="#E28573" shape-rendering="crispEdges"/>
<rect x="447.15" y="324.67" width="33.90" height="8.43" fill="#D2D7EC" shape-rendering="crispEdges"/>
<rect x="464.10" y="324.67" width="16.95" height="8.43" fill="#FCEEEA" shape-rendering="crispEdges"/>
<rect x="482.80" y="308.25" width="5.40" height="24.40" fill="#4DBBD5"/>
<text x="487.40" y="320.45" font-size="7.2" text-anchor="middle" fill="#ffffff" transform="rotate(-90 487.40 320.45)">n:3</text>
<text x="348.60" y="321.75" font-size="7.3" text-anchor="middle" transform="rotate(-90 348.60 321.75)">C2</text>
<rect x="362.40" y="333.10" width="118.65" height="49.90" fill="#BDC5E4" shape-rendering="crispEdges"/>
<rect x="379.35" y="333.10" width="101.70" height="49.90" fill="#C8CFE9" shape-rendering="crispEdges"/>
<rect x="396.30" y="333.10" width="84.75" height="49.90" fill="#B0141A" shape-rendering="crispEdges"/>
<rect x="413.25" y="333.10" width="67.80" height="49.90" fill="#BDC5E4" shape-rendering="crispEdges"/>
<rect x="430.20" y="333.10" width="50.85" height="49.90" fill="#E3E6F3" shape-rendering="crispEdges"/>
<rect x="447.15" y="333.10" width="33.90" height="49.90" fill="#F9E0D8" shape-rendering="crispEdges"/>
<rect x="464.10" y="333.10" width="16.95" height="49.90" fill="#C3CAE6" shape-rendering="crispEdges"/>
<rect x="362.40" y="341.42" width="118.65" height="41.58" fill="#BDC5E4" shape-rendering="crispEdges"/>
<rect x="379.35" y="341.42" width="101.70" height="41.58" fill="#C8CFE9" shape-rendering="crispEdges"/>
<rect x="396.30" y="341.42" width="84.75" height="41.58" fill="#B0141A" shape-rendering="crispEdges"/>
<rect x="413.25" y="341.42" width="67.80" height="41.58" fill="#D0D5EC" shape-rendering="crispEdges"/>
<rect x="430.20" y="341.42" width="50.85" height="41.58" fill="#C3CAE6" shape-rendering="crispEdges"/>
<rect x="447.15" y="341.42" width="33.90" height="41.58" fill="#F9E0D8" shape-rendering="crispEdges"/>
<rect x="464.10" y="341.42" width="16.95" height="41.58" fill="#D5DAEE" shape-rendering="crispEdges"/>
<rect x="362.40" y="349.73" width="118.65" height="33.27" fill="#BDC5E4" shape-rendering="crispEdges"/>
<rect x="379.35" y="349.73" width="101.70" height="33.27" fill="#F2F3F9" shape-rendering="crispEdges"/>
<rect x="396.30" y="349.73" width="84.75" height="33.27" fill="#B0141A" shape-rendering="crispEdges"/>
<rect x="413.25" y="349.73" width="67.80" height="33.27" fill="#C3CAE6" shape-rendering="crispEdges"/>
<rect x="430.20" y="349.73" width="50.85" height="33.27" fill="#D5DAEE" shape-rendering="crispEdges"/>
<rect x="447.15" y="349.73" width="33.90" height="33.27" fill="#FBEAE5" shape-rendering="crispEdges"/>
<rect x="464.10" y="349.73" width="16.95" height="33.27" fill="#BDC5E4" shape-rendering="crispEdges"/>
<rect x="362.40" y="358.05" width="118.65" height="24.95" fill="#B8C1E2" shape-rendering="crispEdges"/>
<rect x="379.35" y="358.05" width="101.70" height="24.95" fill="#C3CAE6" shape-rendering="crispEdges"/>
<rect x="396.30" y="358.05" width="84.75" height="24.95" fill="#B0141A" shape-rendering="crispEdges"/>
<rect x="413.25" y="358.05" width="67.80" height="24.95" fill="#B8C1E2" shape-rendering="crispEdges"/>
<rect x="430.20" y="358.05" width="50.85" height="24.95" fill="#E6E8F4" shape-rendering="crispEdges"/>
<rect x="447.15" y="358.05" width="33.90" height="24.95" fill="#F1B5A7" shape-rendering="crispEdges"/>
<rect x="464.10" y="358.05" width="16.95" height="24.95" fill="#E0E3F1" shape-rendering="crispEdges"/>
<rect x="362.40" y="366.37" width="118.65" height="16.63" fill="#B8C1E2" shape-rendering="crispEdges"/>
<rect x="379.35" y="366.37" width="101.70" height="16.63" fill="#C3CAE6" shape-rendering="crispEdges"/>
<rect x="396.30" y="366.37" width="84.75" height="16.63" fill="#B0141A" shape-rendering="crispEdges"/>
<rect x="413.25" y="366.37" width="67.80" height="16.63" fill="#D5DAEE" shape-rendering="crispEdges"/>
<rect x="430.20" y="366.37" width="50.85" height="16.63" fill="#C3CAE6" shape-rendering="crispEdges"/>
<rect x="447.15" y="366.37" width="33.90" height="16.63" fill="#EFAA9B" shape-rendering="crispEdges"/>
<rect x="464.10" y="366.37" width="16.95" height="16.63" fill="#D5DAEE" shape-rendering="crispEdges"/>
<rect x="362.40" y="374.68" width="118.65" height="8.32" fill="#E8EAF5" shape-rendering="crispEdges"/>
<rect x="379.35" y="374.68" width="101.70" height="8.32" fill="#D5DAEE" shape-rendering="crispEdges"/>
<rect x="396.30" y="374.68" width="84.75" height="8.32" fill="#B0141A" shape-rendering="crispEdges"/>
<rect x="413.25" y="374.68" width="67.80" height="8.32" fill="#D0D5EC" shape-rendering="crispEdges"/>
<rect x="430.20" y="374.68" width="50.85" height="8.32" fill="#E0E3F1" shape-rendering="crispEdges"/>
<rect x="447.15" y="374.68" width="33.90" height="8.32" fill="#E0E3F1" shape-rendering="crispEdges"/>
<rect x="464.10" y="374.68" width="16.95" height="8.32" fill="#D5DAEE" shape-rendering="crispEdges"/>
<rect x="482.80" y="333.55" width="5.40" height="49.00" fill="#3C5488"/>
<text x="487.40" y="358.05" font-size="7.2" text-anchor="middle" fill="#ffffff" transform="rotate(-90 487.40 358.05)">n:6</text>
<text x="348.60" y="358.05" font-size="7.3" text-anchor="middle" transform="rotate(-90 348.60 358.05)">C4</text>
<rect x="362.40" y="383.00" width="118.65" height="9.30" fill="#B3BCDF" shape-rendering="crispEdges"/>
<rect x="379.35" y="383.00" width="101.70" height="9.30" fill="#E6E8F4" shape-rendering="crispEdges"/>
<rect x="396.30" y="383.00" width="84.75" height="9.30" fill="#E27E6A" shape-rendering="crispEdges"/>
<rect x="413.25" y="383.00" width="67.80" height="9.30" fill="#A8B3DA" shape-rendering="crispEdges"/>
<rect x="430.20" y="383.00" width="50.85" height="9.30" fill="#F8F8FB" shape-rendering="crispEdges"/>
<rect x="447.15" y="383.00" width="33.90" height="9.30" fill="#C9442F" shape-rendering="crispEdges"/>
<rect x="464.10" y="383.00" width="16.95" height="9.30" fill="#C3CAE6" shape-rendering="crispEdges"/>
<rect x="482.80" y="383.45" width="5.40" height="8.40" fill="#00A087"/>
<text x="487.40" y="387.65" font-size="7.2" text-anchor="middle" fill="#ffffff" transform="rotate(-90 487.40 387.65)">n:1</text>
<text x="348.60" y="387.65" font-size="7.3" text-anchor="middle" transform="rotate(-90 348.60 387.65)">C3</text>
<rect x="362.40" y="392.30" width="118.65" height="48.30" fill="#B8C1E2" shape-rendering="crispEdges"/>
<rect x="379.35" y="392.30" width="101.70" height="48.30" fill="#B8C1E2" shape-rendering="crispEdges"/>
<rect x="396.30" y="392.30" width="84.75" height="48.30" fill="#B3BCDF" shape-rendering="crispEdges"/>
<rect x="413.25" y="392.30" width="67.80" height="48.30" fill="#EEF0F8" shape-rendering="crispEdges"/>
<rect x="430.20" y="392.30" width="50.85" height="48.30" fill="#B0141A" shape-rendering="crispEdges"/>
<rect x="447.15" y="392.30" width="33.90" height="48.30" fill="#E6E8F4" shape-rendering="crispEdges"/>
<rect x="464.10" y="392.30" width="16.95" height="48.30" fill="#FBE6E0" shape-rendering="crispEdges"/>
<rect x="362.40" y="400.35" width="118.65" height="40.25" fill="#A8B3DA" shape-rendering="crispEdges"/>
<rect x="379.35" y="400.35" width="101.70" height="40.25" fill="#A8B3DA" shape-rendering="crispEdges"/>
<rect x="396.30" y="400.35" width="84.75" height="40.25" fill="#B3BCDF" shape-rendering="crispEdges"/>
<rect x="413.25" y="400.35" width="67.80" height="40.25" fill="#FFF8F3" shape-rendering="crispEdges"/>
<rect x="430.20" y="400.35" width="50.85" height="40.25" fill="#B0141A" shape-rendering="crispEdges"/>
<rect x="447.15" y="400.35" width="33.90" height="40.25" fill="#E6E8F4" shape-rendering="crispEdges"/>
<rect x="464.10" y="400.35" width="16.95" height="40.25" fill="#F6D3CB" shape-rendering="crispEdges"/>
<rect x="362.40" y="408.40" width="118.65" height="32.20" fill="#C8CFE9" shape-rendering="crispEdges"/>
<rect x="379.35" y="408.40" width="101.70" height="32.20" fill="#C8CFE9" shape-rendering="crispEdges"/>
<rect x="396.30" y="408.40" width="84.75" height="32.20" fill="#D5DAEE" shape-rendering="crispEdges"/>
<rect x="413.25" y="408.40" width="67.80" height="32.20" fill="#C3CAE6" shape-rendering="crispEdges"/>
<rect x="430.20" y="408.40" width="50.85" height="32.20" fill="#B0141A" shape-rendering="crispEdges"/>
<rect x="447.15" y="408.40" width="33.90" height="32.20" fill="#C3CAE6" shape-rendering="crispEdges"/>
<rect x="464.10" y="408.40" width="16.95" height="32.20" fill="#FDF3F0" shape-rendering="crispEdges"/>
<rect x="362.40" y="416.45" width="118.65" height="24.15" fill="#C8CFE9" shape-rendering="crispEdges"/>
<rect x="379.35" y="416.45" width="101.70" height="24.15" fill="#C8CFE9" shape-rendering="crispEdges"/>
<rect x="396.30" y="416.45" width="84.75" height="24.15" fill="#CDD3EB" shape-rendering="crispEdges"/>
<rect x="413.25" y="416.45" width="67.80" height="24.15" fill="#C3CAE6" shape-rendering="crispEdges"/>
<rect x="430.20" y="416.45" width="50.85" height="24.15" fill="#B0141A" shape-rendering="crispEdges"/>
<rect x="447.15" y="416.45" width="33.90" height="24.15" fill="#C3CAE6" shape-rendering="crispEdges"/>
<rect x="464.10" y="416.45" width="16.95" height="24.15" fill="#F9DDD6" shape-rendering="crispEdges"/>
<rect x="362.40" y="424.50" width="118.65" height="16.10" fill="#C8CFE9" shape-rendering="crispEdges"/>
<rect x="379.35" y="424.50" width="101.70" height="16.10" fill="#C8CFE9" shape-rendering="crispEdges"/>
<rect x="396.30" y="424.50" width="84.75" height="16.10" fill="#EEF0F8" shape-rendering="crispEdges"/>
<rect x="413.25" y="424.50" width="67.80" height="16.10" fill="#C8CFE9" shape-rendering="crispEdges"/>
<rect x="430.20" y="424.50" width="50.85" height="16.10" fill="#B0141A" shape-rendering="crispEdges"/>
<rect x="447.15" y="424.50" width="33.90" height="16.10" fill="#E0E3F1" shape-rendering="crispEdges"/>
<rect x="464.10" y="424.50" width="16.95" height="16.10" fill="#FDF3F0" shape-rendering="crispEdges"/>
<rect x="362.40" y="432.55" width="118.65" height="8.05" fill="#BDC5E4" shape-rendering="crispEdges"/>
<rect x="379.35" y="432.55" width="101.70" height="8.05" fill="#B8C1E2" shape-rendering="crispEdges"/>
<rect x="396.30" y="432.55" width="84.75" height="8.05" fill="#C8CFE9" shape-rendering="crispEdges"/>
<rect x="413.25" y="432.55" width="67.80" height="8.05" fill="#C8CFE9" shape-rendering="crispEdges"/>
<rect x="430.20" y="432.55" width="50.85" height="8.05" fill="#B0141A" shape-rendering="crispEdges"/>
<rect x="447.15" y="432.55" width="33.90" height="8.05" fill="#F3C3B8" shape-rendering="crispEdges"/>
<rect x="464.10" y="432.55" width="16.95" height="8.05" fill="#E3E6F3" shape-rendering="crispEdges"/>
<rect x="482.80" y="392.75" width="5.40" height="47.40" fill="#F39B7F"/>
<text x="487.40" y="416.45" font-size="7.2" text-anchor="middle" fill="#ffffff" transform="rotate(-90 487.40 416.45)">n:6</text>
<text x="348.60" y="415.85" font-size="7.3" text-anchor="middle" transform="rotate(-90 348.60 415.85)">C5</text>
<line x1="362.40" y1="307.80" x2="481.05" y2="307.80" stroke="#808080" stroke-width="1.5"/>
<line x1="362.40" y1="333.10" x2="481.05" y2="333.10" stroke="#808080" stroke-width="1.5"/>
<line x1="362.40" y1="383.00" x2="481.05" y2="383.00" stroke="#808080" stroke-width="1.5"/>
<line x1="362.40" y1="392.30" x2="481.05" y2="392.30" stroke="#808080" stroke-width="1.5"/>
<rect x="362.40" y="267.00" width="118.65" height="173.60" fill="none" stroke="#808080" stroke-width="1"/>
<text x="519.80" y="229.20" font-size="7.2">Z−score</text>
<defs><linearGradient id="gz" x1="0" y1="0" x2="0" y2="1"><stop offset="0" stop-color="#B2141E"/><stop offset="0.25" stop-color="#E57A6E"/><stop offset="0.5" stop-color="#FFFFFF"/><stop offset="0.75" stop-color="#8C9FD2"/><stop offset="1" stop-color="#1D4CA6"/></linearGradient><linearGradient id="ge" x1="0" y1="0" x2="0" y2="1"><stop offset="0" stop-color="#EE1111"/><stop offset="0.5" stop-color="#FFFFFF"/><stop offset="1" stop-color="#1111EE"/></linearGradient></defs>
<rect x="530.10" y="233.00" width="4.00" height="32.60" fill="url(#gz)"/>
<text x="534.60" y="237.00" font-size="7.0">2</text>
<text x="534.60" y="244.65" font-size="7.0">1</text>
<text x="534.60" y="252.30" font-size="7.0">0</text>
<text x="534.60" y="259.95" font-size="7.0">−1</text>
<text x="534.60" y="267.60" font-size="7.0">−2</text>
<polygon points="486.00,37.30 493.40,37.40 493.40,56.60 486.00,52.20" fill="#EAEAEA"/>
<polygon points="486.00,52.20 493.40,59.30 493.40,78.50 486.00,67.80" fill="#EAEAEA"/>
<polygon points="486.00,67.80 493.40,80.90 493.40,100.20 486.00,97.00" fill="#EAEAEA"/>
<polygon points="486.00,97.00 493.40,102.50 493.40,122.00 486.00,127.00" fill="#EAEAEA"/>
<polygon points="486.00,127.00 493.40,129.40 493.40,149.00 486.00,156.60" fill="#EAEAEA"/>
<polygon points="486.00,156.60 493.40,151.30 493.40,170.80 486.00,172.00" fill="#EAEAEA"/>
<polygon points="486.00,172.00 493.40,173.30 493.40,192.40 486.00,187.20" fill="#EAEAEA"/>
<polygon points="486.00,187.20 493.40,195.10 493.40,214.60 486.00,216.40" fill="#EAEAEA"/>
<rect x="493.40" y="37.40" width="45.20" height="19.20" fill="#ffffff" stroke="#333333" stroke-width="1.05"/>
<text x="495.20" y="44.80" font-size="7.1" fill="#2a2a2a">Gene Size: 1</text>
<path d="M495.90,48.15 L502.63,52.38 L509.37,55.54 L516.10,47.19 L522.83,54.30 L529.57,50.07 L536.30,44.89" stroke="#E0313F" fill="none" stroke-width="0.9" stroke-linejoin="round"/>
<rect x="493.40" y="59.30" width="45.20" height="19.20" fill="#ffffff" stroke="#333333" stroke-width="1.05"/>
<text x="495.20" y="66.70" font-size="7.1" fill="#2a2a2a">Gene Size: 1</text>
<path d="M495.90,65.06 L502.63,68.90 L509.37,73.70 L516.10,70.82 L522.83,77.35 L529.57,69.48 L536.30,71.30" stroke="#E0313F" fill="none" stroke-width="0.9" stroke-linejoin="round"/>
<rect x="493.40" y="80.90" width="45.20" height="19.30" fill="#ffffff" stroke="#333333" stroke-width="1.05"/>
<text x="495.20" y="88.30" font-size="7.1" fill="#2a2a2a">Gene Size: 2</text>
<rect x="495.00" y="86.56" width="1.80" height="1.80" fill="#6a6a6a"/>
<rect x="501.73" y="89.07" width="1.80" height="1.80" fill="#6a6a6a"/>
<rect x="508.47" y="92.93" width="1.80" height="1.80" fill="#6a6a6a"/>
<rect x="515.20" y="91.58" width="1.80" height="1.80" fill="#6a6a6a"/>
<rect x="521.93" y="97.76" width="1.80" height="1.80" fill="#6a6a6a"/>
<rect x="528.67" y="90.81" width="1.80" height="1.80" fill="#6a6a6a"/>
<rect x="535.40" y="96.41" width="1.80" height="1.80" fill="#6a6a6a"/>
<path d="M495.90,87.46 L502.63,89.97 L509.37,93.83 L516.10,92.48 L522.83,98.66 L529.57,91.71 L536.30,97.31" stroke="#E0313F" fill="none" stroke-width="0.9" stroke-linejoin="round"/>
<rect x="493.40" y="102.50" width="45.20" height="19.50" fill="#ffffff" stroke="#333333" stroke-width="1.05"/>
<text x="495.20" y="109.90" font-size="7.1" fill="#2a2a2a">Gene Size: 2</text>
<rect x="495.00" y="109.98" width="1.80" height="1.80" fill="#6a6a6a"/>
<rect x="501.73" y="111.74" width="1.80" height="1.80" fill="#6a6a6a"/>
<rect x="508.47" y="112.52" width="1.80" height="1.80" fill="#6a6a6a"/>
<rect x="515.20" y="117.78" width="1.80" height="1.80" fill="#6a6a6a"/>
<rect x="521.93" y="119.73" width="1.80" height="1.80" fill="#6a6a6a"/>
<rect x="528.67" y="112.71" width="1.80" height="1.80" fill="#6a6a6a"/>
<rect x="535.40" y="118.76" width="1.80" height="1.80" fill="#6a6a6a"/>
<path d="M495.90,110.89 L502.63,112.64 L509.37,113.42 L516.10,118.69 L522.83,120.64 L529.57,113.61 L536.30,119.66" stroke="#E0313F" fill="none" stroke-width="0.9" stroke-linejoin="round"/>
<rect x="493.40" y="129.40" width="45.20" height="19.60" fill="#ffffff" stroke="#333333" stroke-width="1.05"/>
<text x="495.20" y="136.80" font-size="7.1" fill="#2a2a2a">Gene Size: 2</text>
<rect x="495.00" y="144.38" width="1.80" height="1.80" fill="#6a6a6a"/>
<rect x="501.73" y="144.38" width="1.80" height="1.80" fill="#6a6a6a"/>
<rect x="508.47" y="144.18" width="1.80" height="1.80" fill="#6a6a6a"/>
<rect x="515.20" y="143.79" width="1.80" height="1.80" fill="#6a6a6a"/>
<rect x="521.93" y="135.56" width="1.80" height="1.80" fill="#6a6a6a"/>
<rect x="528.67" y="143.98" width="1.80" height="1.80" fill="#6a6a6a"/>
<rect x="535.40" y="136.34" width="1.80" height="1.80" fill="#6a6a6a"/>
<path d="M495.90,145.28 L502.63,145.28 L509.37,145.08 L516.10,144.69 L522.83,136.46 L529.57,144.88 L536.30,137.24" stroke="#E0313F" fill="none" stroke-width="0.9" stroke-linejoin="round"/>
<rect x="493.40" y="151.30" width="45.20" height="19.50" fill="#ffffff" stroke="#333333" stroke-width="1.05"/>
<text x="495.20" y="158.70" font-size="7.1" fill="#2a2a2a">Gene Size: 1</text>
<path d="M495.90,165.93 L502.63,166.90 L509.37,163.59 L516.10,167.29 L522.83,156.37 L529.57,164.95 L536.30,166.51" stroke="#E0313F" fill="none" stroke-width="0.9" stroke-linejoin="round"/>
<rect x="493.40" y="173.30" width="45.20" height="19.10" fill="#ffffff" stroke="#333333" stroke-width="1.05"/>
<text x="495.20" y="180.70" font-size="7.1" fill="#2a2a2a">Gene Size: 1</text>
<path d="M495.90,189.34 L502.63,188.01 L509.37,179.03 L516.10,189.34 L522.83,186.67 L529.57,185.72 L536.30,187.62" stroke="#E0313F" fill="none" stroke-width="0.9" stroke-linejoin="round"/>
<rect x="493.40" y="195.10" width="45.20" height="19.50" fill="#ffffff" stroke="#333333" stroke-width="1.05"/>
<text x="495.20" y="202.50" font-size="7.1" fill="#2a2a2a">Gene Size: 2</text>
<rect x="495.00" y="210.19" width="1.80" height="1.80" fill="#6a6a6a"/>
<rect x="501.73" y="209.22" width="1.80" height="1.80" fill="#6a6a6a"/>
<rect x="508.47" y="200.24" width="1.80" height="1.80" fill="#6a6a6a"/>
<rect x="515.20" y="210.19" width="1.80" height="1.80" fill="#6a6a6a"/>
<rect x="521.93" y="203.95" width="1.80" height="1.80" fill="#6a6a6a"/>
<rect x="528.67" y="207.85" width="1.80" height="1.80" fill="#6a6a6a"/>
<rect x="535.40" y="208.24" width="1.80" height="1.80" fill="#6a6a6a"/>
<path d="M495.90,211.09 L502.63,210.12 L509.37,201.14 L516.10,211.09 L522.83,204.85 L529.57,208.75 L536.30,209.14" stroke="#E0313F" fill="none" stroke-width="0.9" stroke-linejoin="round"/>
<polygon points="488.20,267.00 494.40,277.40 494.40,296.50 488.20,307.80" fill="#F3F3F3"/>
<polygon points="488.20,307.80 494.40,311.10 494.40,330.60 488.20,333.10" fill="#F3F3F3"/>
<polygon points="488.20,333.10 494.40,348.40 494.40,367.50 488.20,383.00" fill="#F3F3F3"/>
<polygon points="488.20,383.00 494.40,378.30 494.40,397.30 488.20,392.30" fill="#F3F3F3"/>
<polygon points="488.20,392.30 494.40,407.70 494.40,426.70 488.20,440.60" fill="#F3F3F3"/>
<rect x="494.40" y="277.40" width="44.20" height="19.10" fill="#ffffff" stroke="#333333" stroke-width="1.05"/>
<text x="495.60" y="283.80" font-size="7.1" fill="#2a2a2a">Gene Size: 5</text>
<rect x="498.10" y="293.12" width="1.80" height="1.80" fill="#6a6a6a"/>
<rect x="503.53" y="291.97" width="1.80" height="1.80" fill="#6a6a6a"/>
<rect x="508.97" y="285.48" width="1.80" height="1.80" fill="#6a6a6a"/>
<rect x="514.40" y="292.93" width="1.80" height="1.80" fill="#6a6a6a"/>
<rect x="519.83" y="282.23" width="1.80" height="1.80" fill="#6a6a6a"/>
<rect x="525.27" y="290.06" width="1.80" height="1.80" fill="#6a6a6a"/>
<rect x="530.70" y="290.63" width="1.80" height="1.80" fill="#6a6a6a"/>
<path d="M499.00,294.02 L504.43,292.87 L509.87,286.38 L515.30,293.83 L520.73,283.13 L526.17,290.96 L531.60,291.53" stroke="#E0313F" fill="none" stroke-width="0.9" stroke-linejoin="round"/>
<rect x="494.40" y="311.10" width="44.20" height="19.50" fill="#ffffff" stroke="#333333" stroke-width="1.05"/>
<text x="495.60" y="317.50" font-size="7.1" fill="#2a2a2a">Gene Size: 3</text>
<rect x="498.10" y="326.97" width="1.80" height="1.80" fill="#6a6a6a"/>
<rect x="503.53" y="326.39" width="1.80" height="1.80" fill="#6a6a6a"/>
<rect x="508.97" y="315.66" width="1.80" height="1.80" fill="#6a6a6a"/>
<rect x="514.40" y="326.97" width="1.80" height="1.80" fill="#6a6a6a"/>
<rect x="519.83" y="319.37" width="1.80" height="1.80" fill="#6a6a6a"/>
<rect x="525.27" y="324.44" width="1.80" height="1.80" fill="#6a6a6a"/>
<rect x="530.70" y="324.44" width="1.80" height="1.80" fill="#6a6a6a"/>
<path d="M499.00,327.87 L504.43,327.29 L509.87,316.56 L515.30,327.87 L520.73,320.27 L526.17,325.34 L531.60,325.34" stroke="#E0313F" fill="none" stroke-width="0.9" stroke-linejoin="round"/>
<rect x="494.40" y="348.40" width="44.20" height="19.10" fill="#ffffff" stroke="#333333" stroke-width="1.05"/>
<text x="495.60" y="354.80" font-size="7.1" fill="#2a2a2a">Gene Size: 6</text>
<rect x="498.10" y="363.35" width="1.80" height="1.80" fill="#6a6a6a"/>
<rect x="503.53" y="363.35" width="1.80" height="1.80" fill="#6a6a6a"/>
<rect x="508.97" y="351.70" width="1.80" height="1.80" fill="#6a6a6a"/>
<rect x="514.40" y="363.35" width="1.80" height="1.80" fill="#6a6a6a"/>
<rect x="519.83" y="362.40" width="1.80" height="1.80" fill="#6a6a6a"/>
<rect x="525.27" y="359.53" width="1.80" height="1.80" fill="#6a6a6a"/>
<rect x="530.70" y="362.97" width="1.80" height="1.80" fill="#6a6a6a"/>
<path d="M499.00,364.25 L504.43,364.25 L509.87,352.60 L515.30,364.25 L520.73,363.30 L526.17,360.43 L531.60,363.87" stroke="#E0313F" fill="none" stroke-width="0.9" stroke-linejoin="round"/>
<rect x="494.40" y="378.30" width="44.20" height="19.00" fill="#ffffff" stroke="#333333" stroke-width="1.05"/>
<text x="495.60" y="384.70" font-size="7.1" fill="#2a2a2a">Gene Size: 1</text>
<path d="M499.00,394.45 L504.43,392.36 L509.87,386.47 L515.30,394.45 L520.73,391.41 L526.17,384.19 L531.60,394.45" stroke="#E0313F" fill="none" stroke-width="0.9" stroke-linejoin="round"/>
<rect x="494.40" y="407.70" width="44.20" height="19.00" fill="#ffffff" stroke="#333333" stroke-width="1.05"/>
<text x="495.60" y="414.10" font-size="7.1" fill="#2a2a2a">Gene Size: 6</text>
<rect x="498.10" y="422.57" width="1.80" height="1.80" fill="#6a6a6a"/>
<rect x="503.53" y="422.19" width="1.80" height="1.80" fill="#6a6a6a"/>
<rect x="508.97" y="422.19" width="1.80" height="1.80" fill="#6a6a6a"/>
<rect x="514.40" y="421.81" width="1.80" height="1.80" fill="#6a6a6a"/>
<rect x="519.83" y="412.31" width="1.80" height="1.80" fill="#6a6a6a"/>
<rect x="525.27" y="421.24" width="1.80" height="1.80" fill="#6a6a6a"/>
<rect x="530.70" y="419.15" width="1.80" height="1.80" fill="#6a6a6a"/>
<path d="M499.00,423.47 L504.43,423.09 L509.87,423.09 L515.30,422.71 L520.73,413.21 L526.17,422.14 L531.60,420.05" stroke="#E0313F" fill="none" stroke-width="0.9" stroke-linejoin="round"/>
<line x1="363.30" y1="75.10" x2="362.30" y2="75.10" stroke="#2a2a2a" stroke-width="0.75"/>
<line x1="363.30" y1="89.70" x2="362.30" y2="89.70" stroke="#2a2a2a" stroke-width="0.75"/>
<line x1="362.30" y1="75.10" x2="362.30" y2="89.70" stroke="#2a2a2a" stroke-width="0.75"/>
<line x1="363.30" y1="104.50" x2="360.90" y2="104.50" stroke="#2a2a2a" stroke-width="0.75"/>
<line x1="363.30" y1="119.50" x2="360.90" y2="119.50" stroke="#2a2a2a" stroke-width="0.75"/>
<line x1="360.90" y1="104.50" x2="360.90" y2="119.50" stroke="#2a2a2a" stroke-width="0.75"/>
<line x1="363.30" y1="134.40" x2="361.90" y2="134.40" stroke="#2a2a2a" stroke-width="0.75"/>
<line x1="363.30" y1="149.20" x2="361.90" y2="149.20" stroke="#2a2a2a" stroke-width="0.75"/>
<line x1="361.90" y1="134.40" x2="361.90" y2="149.20" stroke="#2a2a2a" stroke-width="0.75"/>
<line x1="363.30" y1="194.50" x2="360.80" y2="194.50" stroke="#2a2a2a" stroke-width="0.75"/>
<line x1="363.30" y1="209.10" x2="360.80" y2="209.10" stroke="#2a2a2a" stroke-width="0.75"/>
<line x1="360.80" y1="194.50" x2="360.80" y2="209.10" stroke="#2a2a2a" stroke-width="0.75"/>
<line x1="363.30" y1="60.00" x2="358.60" y2="60.00" stroke="#2a2a2a" stroke-width="0.75"/>
<line x1="362.30" y1="82.40" x2="358.60" y2="82.40" stroke="#2a2a2a" stroke-width="0.75"/>
<line x1="358.60" y1="60.00" x2="358.60" y2="82.40" stroke="#2a2a2a" stroke-width="0.75"/>
<line x1="358.60" y1="71.20" x2="357.40" y2="71.20" stroke="#2a2a2a" stroke-width="0.75"/>
<line x1="360.90" y1="112.00" x2="357.40" y2="112.00" stroke="#2a2a2a" stroke-width="0.75"/>
<line x1="357.40" y1="71.20" x2="357.40" y2="112.00" stroke="#2a2a2a" stroke-width="0.75"/>
<line x1="363.30" y1="44.75" x2="354.30" y2="44.75" stroke="#2a2a2a" stroke-width="0.75"/>
<line x1="357.40" y1="91.60" x2="354.30" y2="91.60" stroke="#2a2a2a" stroke-width="0.75"/>
<line x1="354.30" y1="44.75" x2="354.30" y2="91.60" stroke="#2a2a2a" stroke-width="0.75"/>
<line x1="361.90" y1="141.80" x2="357.40" y2="141.80" stroke="#2a2a2a" stroke-width="0.75"/>
<line x1="363.30" y1="164.30" x2="357.40" y2="164.30" stroke="#2a2a2a" stroke-width="0.75"/>
<line x1="357.40" y1="141.80" x2="357.40" y2="164.30" stroke="#2a2a2a" stroke-width="0.75"/>
<line x1="363.30" y1="179.60" x2="359.40" y2="179.60" stroke="#2a2a2a" stroke-width="0.75"/>
<line x1="360.80" y1="201.80" x2="359.40" y2="201.80" stroke="#2a2a2a" stroke-width="0.75"/>
<line x1="359.40" y1="179.60" x2="359.40" y2="201.80" stroke="#2a2a2a" stroke-width="0.75"/>
<line x1="357.40" y1="153.05" x2="354.60" y2="153.05" stroke="#2a2a2a" stroke-width="0.75"/>
<line x1="359.40" y1="190.70" x2="354.60" y2="190.70" stroke="#2a2a2a" stroke-width="0.75"/>
<line x1="354.60" y1="153.05" x2="354.60" y2="190.70" stroke="#2a2a2a" stroke-width="0.75"/>
<line x1="354.30" y1="68.17" x2="352.60" y2="68.17" stroke="#2a2a2a" stroke-width="0.75"/>
<line x1="354.60" y1="171.88" x2="352.60" y2="171.88" stroke="#2a2a2a" stroke-width="0.75"/>
<line x1="352.60" y1="68.17" x2="352.60" y2="171.88" stroke="#2a2a2a" stroke-width="0.75"/>
<line x1="362.40" y1="279.24" x2="360.60" y2="279.24" stroke="#2a2a2a" stroke-width="0.75"/>
<line x1="362.40" y1="287.40" x2="360.60" y2="287.40" stroke="#2a2a2a" stroke-width="0.75"/>
<line x1="360.60" y1="279.24" x2="360.60" y2="287.40" stroke="#2a2a2a" stroke-width="0.75"/>
<line x1="362.40" y1="295.56" x2="361.00" y2="295.56" stroke="#2a2a2a" stroke-width="0.75"/>
<line x1="362.40" y1="303.72" x2="361.00" y2="303.72" stroke="#2a2a2a" stroke-width="0.75"/>
<line x1="361.00" y1="295.56" x2="361.00" y2="303.72" stroke="#2a2a2a" stroke-width="0.75"/>
<line x1="362.40" y1="271.08" x2="358.60" y2="271.08" stroke="#2a2a2a" stroke-width="0.75"/>
<line x1="360.60" y1="283.32" x2="358.60" y2="283.32" stroke="#2a2a2a" stroke-width="0.75"/>
<line x1="358.60" y1="271.08" x2="358.60" y2="283.32" stroke="#2a2a2a" stroke-width="0.75"/>
<line x1="358.60" y1="277.20" x2="355.60" y2="277.20" stroke="#2a2a2a" stroke-width="0.75"/>
<line x1="361.00" y1="299.64" x2="355.60" y2="299.64" stroke="#2a2a2a" stroke-width="0.75"/>
<line x1="355.60" y1="277.20" x2="355.60" y2="299.64" stroke="#2a2a2a" stroke-width="0.75"/>
<line x1="362.40" y1="320.45" x2="361.00" y2="320.45" stroke="#2a2a2a" stroke-width="0.75"/>
<line x1="362.40" y1="328.88" x2="361.00" y2="328.88" stroke="#2a2a2a" stroke-width="0.75"/>
<line x1="361.00" y1="320.45" x2="361.00" y2="328.88" stroke="#2a2a2a" stroke-width="0.75"/>
<line x1="362.40" y1="312.02" x2="359.80" y2="312.02" stroke="#2a2a2a" stroke-width="0.75"/>
<line x1="361.00" y1="324.67" x2="359.80" y2="324.67" stroke="#2a2a2a" stroke-width="0.75"/>
<line x1="359.80" y1="312.02" x2="359.80" y2="324.67" stroke="#2a2a2a" stroke-width="0.75"/>
<line x1="362.40" y1="337.26" x2="361.20" y2="337.26" stroke="#2a2a2a" stroke-width="0.75"/>
<line x1="362.40" y1="345.58" x2="361.20" y2="345.58" stroke="#2a2a2a" stroke-width="0.75"/>
<line x1="361.20" y1="337.26" x2="361.20" y2="345.58" stroke="#2a2a2a" stroke-width="0.75"/>
<line x1="362.40" y1="353.89" x2="361.40" y2="353.89" stroke="#2a2a2a" stroke-width="0.75"/>
<line x1="362.40" y1="362.21" x2="361.40" y2="362.21" stroke="#2a2a2a" stroke-width="0.75"/>
<line x1="361.40" y1="353.89" x2="361.40" y2="362.21" stroke="#2a2a2a" stroke-width="0.75"/>
<line x1="361.40" y1="358.05" x2="360.60" y2="358.05" stroke="#2a2a2a" stroke-width="0.75"/>
<line x1="362.40" y1="370.52" x2="360.60" y2="370.52" stroke="#2a2a2a" stroke-width="0.75"/>
<line x1="360.60" y1="358.05" x2="360.60" y2="370.52" stroke="#2a2a2a" stroke-width="0.75"/>
<line x1="361.20" y1="341.42" x2="360.00" y2="341.42" stroke="#2a2a2a" stroke-width="0.75"/>
<line x1="360.60" y1="364.29" x2="360.00" y2="364.29" stroke="#2a2a2a" stroke-width="0.75"/>
<line x1="360.00" y1="341.42" x2="360.00" y2="364.29" stroke="#2a2a2a" stroke-width="0.75"/>
<line x1="360.00" y1="352.85" x2="359.50" y2="352.85" stroke="#2a2a2a" stroke-width="0.75"/>
<line x1="362.40" y1="378.84" x2="359.50" y2="378.84" stroke="#2a2a2a" stroke-width="0.75"/>
<line x1="359.50" y1="352.85" x2="359.50" y2="378.84" stroke="#2a2a2a" stroke-width="0.75"/>
<line x1="362.40" y1="396.32" x2="361.20" y2="396.32" stroke="#2a2a2a" stroke-width="0.75"/>
<line x1="362.40" y1="404.38" x2="361.20" y2="404.38" stroke="#2a2a2a" stroke-width="0.75"/>
<line x1="361.20" y1="396.32" x2="361.20" y2="404.38" stroke="#2a2a2a" stroke-width="0.75"/>
<line x1="362.40" y1="412.43" x2="361.00" y2="412.43" stroke="#2a2a2a" stroke-width="0.75"/>
<line x1="362.40" y1="420.48" x2="361.00" y2="420.48" stroke="#2a2a2a" stroke-width="0.75"/>
<line x1="361.00" y1="412.43" x2="361.00" y2="420.48" stroke="#2a2a2a" stroke-width="0.75"/>
<line x1="362.40" y1="428.53" x2="361.30" y2="428.53" stroke="#2a2a2a" stroke-width="0.75"/>
<line x1="362.40" y1="436.58" x2="361.30" y2="436.58" stroke="#2a2a2a" stroke-width="0.75"/>
<line x1="361.30" y1="428.53" x2="361.30" y2="436.58" stroke="#2a2a2a" stroke-width="0.75"/>
<line x1="361.00" y1="416.45" x2="360.40" y2="416.45" stroke="#2a2a2a" stroke-width="0.75"/>
<line x1="361.30" y1="432.55" x2="360.40" y2="432.55" stroke="#2a2a2a" stroke-width="0.75"/>
<line x1="360.40" y1="416.45" x2="360.40" y2="432.55" stroke="#2a2a2a" stroke-width="0.75"/>
<line x1="361.20" y1="400.35" x2="359.50" y2="400.35" stroke="#2a2a2a" stroke-width="0.75"/>
<line x1="360.40" y1="424.50" x2="359.50" y2="424.50" stroke="#2a2a2a" stroke-width="0.75"/>
<line x1="359.50" y1="400.35" x2="359.50" y2="424.50" stroke="#2a2a2a" stroke-width="0.75"/>
<line x1="355.60" y1="288.42" x2="354.00" y2="288.42" stroke="#2a2a2a" stroke-width="0.75"/>
<line x1="359.80" y1="318.34" x2="354.00" y2="318.34" stroke="#2a2a2a" stroke-width="0.75"/>
<line x1="354.00" y1="288.42" x2="354.00" y2="318.34" stroke="#2a2a2a" stroke-width="0.75"/>
<line x1="359.50" y1="365.85" x2="355.20" y2="365.85" stroke="#2a2a2a" stroke-width="0.75"/>
<line x1="362.40" y1="387.65" x2="355.20" y2="387.65" stroke="#2a2a2a" stroke-width="0.75"/>
<line x1="355.20" y1="365.85" x2="355.20" y2="387.65" stroke="#2a2a2a" stroke-width="0.75"/>
<line x1="354.00" y1="303.38" x2="353.00" y2="303.38" stroke="#2a2a2a" stroke-width="0.75"/>
<line x1="355.20" y1="376.75" x2="353.00" y2="376.75" stroke="#2a2a2a" stroke-width="0.75"/>
<line x1="353.00" y1="303.38" x2="353.00" y2="376.75" stroke="#2a2a2a" stroke-width="0.75"/>
<line x1="353.00" y1="340.06" x2="351.80" y2="340.06" stroke="#2a2a2a" stroke-width="0.75"/>
<line x1="359.50" y1="412.43" x2="351.80" y2="412.43" stroke="#2a2a2a" stroke-width="0.75"/>
<line x1="351.80" y1="340.06" x2="351.80" y2="412.43" stroke="#2a2a2a" stroke-width="0.75"/>
<text x="32.90" y="460.70" font-size="13.7" transform="translate(32.90 460.70) scale(1 1.1) translate(-32.90 -460.70)">E</text>
<rect x="49.60" y="451.00" width="460.90" height="193.50" fill="none" stroke="#4a4a4a" stroke-width="1.0"/>
<text x="127.50" y="471.30" font-size="8.5" text-anchor="middle" font-weight="bold" fill="#222">Sugar metabolism</text>
<text x="123.20" y="491.40" font-size="7.2" text-anchor="middle" fill="#22A2E0">Sucrose-6P</text>
<text x="122.90" y="515.90" font-size="7.2" text-anchor="middle" fill="#22A2E0">Sucrose</text>
<text x="172.20" y="526.80" font-size="7.2" text-anchor="middle" fill="#22A2E0">Glucose-6P</text>
<text x="171.40" y="543.20" font-size="7.2" text-anchor="middle" fill="#22A2E0">UDP-Glucose</text>
<text x="79.50" y="540.40" font-size="7.2" text-anchor="middle" fill="#22A2E0">UDP-Glucose</text>
<text x="79.60" y="555.40" font-size="7.2" text-anchor="middle" fill="#22A2E0">Glucose-6P</text>
<text x="123.40" y="550.00" font-size="7.2" text-anchor="middle" fill="#22A2E0">D-Fructose</text>
<text x="79.80" y="580.50" font-size="7.2" text-anchor="middle" fill="#22A2E0">Trehalose-6P</text>
<text x="81.40" y="604.50" font-size="7.2" text-anchor="middle" fill="#22A2E0">Trehalose</text>
<text x="123.70" y="585.50" font-size="7.2" text-anchor="middle" fill="#22A2E0">D-Glucose-6P</text>
<text x="122.50" y="623.20" font-size="7.2" text-anchor="middle" fill="#22A2E0">D-Glucose</text>
<text x="167.60" y="581.40" font-size="7.2" text-anchor="middle" fill="#22A2E0">Cellodextrin</text>
<text x="162.40" y="618.40" font-size="7.2" text-anchor="middle" fill="#22A2E0">Cellobiose</text>
<text x="170.80" y="535.60" font-size="8.2" text-anchor="middle" fill="#222">+</text>
<text x="80.00" y="550.00" font-size="8.2" text-anchor="middle" fill="#222">+</text>
<text x="153.60" y="507.20" font-size="8.5" font-weight="bold" fill="#222">SPS</text>
<text x="125.00" y="533.10" font-size="8.5" font-weight="bold" fill="#222">SUS</text>
<text x="81.40" y="568.50" font-size="8.5" font-weight="bold" fill="#222">TPS</text>
<text x="81.40" y="593.60" font-size="8.5" font-weight="bold" fill="#222">TPP</text>
<text x="124.20" y="565.80" font-size="8.5" font-weight="bold" fill="#222">HXK7</text>
<text x="110.50" y="604.00" font-size="8.5" font-weight="bold" fill="#222">HXK7</text>
<text x="160.80" y="599.10" font-size="8.5" font-weight="bold" fill="#222">BGLU5</text>
<line x1="123.10" y1="494.60" x2="123.10" y2="506.60" stroke="#333333" stroke-width="1.0"/>
<polygon points="123.10,509.30 121.60,506.10 124.60,506.10" fill="#333333"/>
<line x1="167.30" y1="520.00" x2="140.80" y2="496.01" stroke="#333333" stroke-width="1.0"/>
<polygon points="138.80,494.20 142.18,495.24 140.17,497.46" fill="#333333"/>
<line x1="135.10" y1="518.30" x2="154.30" y2="533.80" stroke="#333333" stroke-width="1.0"/>
<polygon points="156.40,535.50 152.97,534.66 154.85,532.32" fill="#333333"/>
<line x1="109.50" y1="518.30" x2="92.88" y2="533.67" stroke="#333333" stroke-width="1.0"/>
<polygon points="90.90,535.50 92.23,532.23 94.27,534.43" fill="#333333"/>
<line x1="123.10" y1="518.80" x2="123.10" y2="539.10" stroke="#333333" stroke-width="1.0"/>
<polygon points="123.10,541.80 121.60,538.60 124.60,538.60" fill="#333333"/>
<line x1="79.50" y1="558.40" x2="79.50" y2="571.30" stroke="#333333" stroke-width="1.0"/>
<polygon points="79.50,574.00 78.00,570.80 81.00,570.80" fill="#333333"/>
<line x1="79.50" y1="583.40" x2="79.50" y2="595.30" stroke="#333333" stroke-width="1.0"/>
<polygon points="79.50,598.00 78.00,594.80 81.00,594.80" fill="#333333"/>
<line x1="89.50" y1="607.60" x2="105.51" y2="614.35" stroke="#333333" stroke-width="1.0"/>
<polygon points="108.00,615.40 104.47,615.54 105.63,612.77" fill="#333333"/>
<line x1="123.10" y1="553.00" x2="123.10" y2="574.60" stroke="#333333" stroke-width="1.0"/>
<polygon points="123.10,577.30 121.60,574.10 124.60,574.10" fill="#333333"/>
<line x1="109.20" y1="588.60" x2="109.20" y2="612.70" stroke="#333333" stroke-width="1.0"/>
<polygon points="109.20,615.40 107.70,612.20 110.70,612.20" fill="#333333"/>
<line x1="134.30" y1="615.40" x2="134.30" y2="591.30" stroke="#333333" stroke-width="1.0"/>
<polygon points="134.30,588.60 135.80,591.80 132.80,591.80" fill="#333333"/>
<line x1="156.10" y1="584.50" x2="134.60" y2="615.20" stroke="#333333" stroke-width="1.0"/>
<line x1="160.40" y1="547.00" x2="160.40" y2="570.50" stroke="#333333" stroke-width="1.0"/>
<polygon points="160.40,573.20 158.90,570.00 161.90,570.00" fill="#333333"/>
<line x1="159.60" y1="586.00" x2="159.60" y2="608.70" stroke="#333333" stroke-width="1.0"/>
<polygon points="159.60,611.40 158.10,608.20 161.10,608.20" fill="#333333"/>
<text x="425.30" y="472.00" font-size="8.5" text-anchor="middle" font-weight="bold" fill="#222">Signaling</text>
<rect x="360.60" y="488.40" width="80.40" height="25.80" fill="none" stroke="#72CEC6" stroke-width="1.0"/>
<text x="362.60" y="498.60" font-size="8.6" fill="#20A294">Energy homeostasis</text>
<rect x="364.20" y="502.10" width="46.00" height="9.00" fill="none" stroke="#A8A8A8" stroke-width="0.7"/>
<text x="366.20" y="508.70" font-size="7.2" fill="#22A2E0">G6P/Glu/Suc</text>
<line x1="411.80" y1="506.70" x2="420.50" y2="506.70" stroke="#222" stroke-width="0.8"/>
<polygon points="422.80,506.70 420.00,508.00 420.00,505.40" fill="#222"/>
<rect x="423.50" y="502.10" width="14.40" height="9.00" fill="none" stroke="#A8A8A8" stroke-width="0.7"/>
<text x="424.60" y="508.70" font-size="6.9" fill="#22A2E0">T6P</text>
<line x1="430.50" y1="514.40" x2="430.50" y2="537.60" stroke="#555" stroke-width="1.1"/>
<line x1="427.90" y1="537.60" x2="433.10" y2="537.60" stroke="#555" stroke-width="1.1"/>
<text x="359.20" y="528.00" font-size="7.2" fill="#22A2E0">Energy deficiency</text>
<line x1="393.00" y1="532.00" x2="413.54" y2="545.52" stroke="#333" stroke-width="1.0"/>
<polygon points="415.80,547.00 412.30,546.49 413.95,543.99" fill="#333"/>
<text x="418.40" y="550.90" font-size="8.4" font-weight="bold" fill="#111">SnRK1</text>
<text x="481.80" y="503.00" font-size="7.2" fill="#22A2E0">ABA</text>
<line x1="489.70" y1="505.80" x2="489.70" y2="514.40" stroke="#444" stroke-width="0.8"/>
<line x1="487.50" y1="514.40" x2="491.90" y2="514.40" stroke="#444" stroke-width="0.8"/>
<text x="479.90" y="526.10" font-size="7.2" fill="#333">PP2C</text>
<line x1="474.80" y1="527.20" x2="450.80" y2="540.60" stroke="#555" stroke-width="1.1"/>
<line x1="449.53" y1="538.33" x2="452.07" y2="542.87" stroke="#555" stroke-width="1.1"/>
<line x1="489.70" y1="528.60" x2="489.70" y2="542.00" stroke="#333" stroke-width="1.0"/>
<polygon points="489.70,544.70 488.20,541.50 491.20,541.50" fill="#333"/>
<text x="478.20" y="551.80" font-size="7.2" fill="#333">SnRK2</text>
<line x1="489.70" y1="555.00" x2="489.70" y2="561.80" stroke="#333" stroke-width="1.0"/>
<polygon points="489.70,564.50 488.20,561.30 491.20,561.30" fill="#333"/>
<text x="481.80" y="578.00" font-size="7.2" fill="#333">ABF</text>
<line x1="449.40" y1="553.20" x2="476.70" y2="570.08" stroke="#333" stroke-width="1.0"/>
<polygon points="479.00,571.50 475.49,571.09 477.07,568.54" fill="#333"/>
<line x1="430.50" y1="555.20" x2="430.50" y2="573.00" stroke="#555" stroke-width="1.1"/>
<polygon points="430.50,575.70 429.00,572.50 432.00,572.50" fill="#555"/>
<text x="402.10" y="587.00" font-size="7.3" fill="#22A2E0">Energy-producing</text>
<text x="400.10" y="595.00" font-size="7.3" fill="#22A2E0">catabolic processes</text>
<line x1="370.40" y1="619.10" x2="387.10" y2="619.10" stroke="#5a5050" stroke-width="0.9"/>
<polygon points="389.60,619.10 386.60,620.40 386.60,617.80" fill="#5a5050"/>
<text x="394.10" y="622.00" font-size="7.1" fill="#333">promotion</text>
<line x1="441.30" y1="619.10" x2="460.40" y2="619.10" stroke="#6a6060" stroke-width="0.9"/>
<line x1="460.40" y1="622.10" x2="460.40" y2="616.10" stroke="#6a6060" stroke-width="0.9"/>
<text x="465.00" y="622.00" font-size="7.1" fill="#333">inhibition</text>
<rect x="232.30" y="456.20" width="52.78" height="16.70" fill="#A6A6F4" shape-rendering="crispEdges"/>
<rect x="239.84" y="456.20" width="45.24" height="16.70" fill="#DCDCFA" shape-rendering="crispEdges"/>
<rect x="247.38" y="456.20" width="37.70" height="16.70" fill="#F21A1A" shape-rendering="crispEdges"/>
<rect x="254.92" y="456.20" width="30.16" height="16.70" fill="#5A5AF0" shape-rendering="crispEdges"/>
<rect x="262.46" y="456.20" width="22.62" height="16.70" fill="#F88080" shape-rendering="crispEdges"/>
<rect x="270.00" y="456.20" width="15.08" height="16.70" fill="#FBDADA" shape-rendering="crispEdges"/>
<rect x="277.54" y="456.20" width="7.54" height="16.70" fill="#8C8CF0" shape-rendering="crispEdges"/>
<text x="286.60" y="461.58" font-size="7.2" fill="#222">LOC107785687</text>
<rect x="232.30" y="461.77" width="52.78" height="11.13" fill="#3C3CF0" shape-rendering="crispEdges"/>
<rect x="239.84" y="461.77" width="45.24" height="11.13" fill="#D8D8FA" shape-rendering="crispEdges"/>
<rect x="247.38" y="461.77" width="37.70" height="11.13" fill="#F21A1A" shape-rendering="crispEdges"/>
<rect x="254.92" y="461.77" width="30.16" height="11.13" fill="#C0C0F8" shape-rendering="crispEdges"/>
<rect x="262.46" y="461.77" width="22.62" height="11.13" fill="#F89898" shape-rendering="crispEdges"/>
<rect x="270.00" y="461.77" width="15.08" height="11.13" fill="#C0C0F8" shape-rendering="crispEdges"/>
<rect x="277.54" y="461.77" width="7.54" height="11.13" fill="#F0F0FC" shape-rendering="crispEdges"/>
<text x="286.60" y="467.15" font-size="7.2" fill="#222">LOC107821630</text>
<rect x="232.30" y="467.33" width="52.78" height="5.57" fill="#3C3CF0" shape-rendering="crispEdges"/>
<rect x="239.84" y="467.33" width="45.24" height="5.57" fill="#D0D0FA" shape-rendering="crispEdges"/>
<rect x="247.38" y="467.33" width="37.70" height="5.57" fill="#F21A1A" shape-rendering="crispEdges"/>
<rect x="254.92" y="467.33" width="30.16" height="5.57" fill="#B8B8F8" shape-rendering="crispEdges"/>
<rect x="262.46" y="467.33" width="22.62" height="5.57" fill="#F8A0A0" shape-rendering="crispEdges"/>
<rect x="270.00" y="467.33" width="15.08" height="5.57" fill="#E0E0FA" shape-rendering="crispEdges"/>
<rect x="277.54" y="467.33" width="7.54" height="5.57" fill="#FCE6E6" shape-rendering="crispEdges"/>
<text x="286.60" y="472.72" font-size="7.2" fill="#222">LOC107789345</text>
<text x="228.60" y="469.35" font-size="8.3" text-anchor="end" font-style="italic" fill="#222">SPS</text>
<rect x="232.30" y="477.30" width="52.78" height="33.40" fill="#6A6AF2" shape-rendering="crispEdges"/>
<rect x="239.84" y="477.30" width="45.24" height="33.40" fill="#6A6AF2" shape-rendering="crispEdges"/>
<rect x="247.38" y="477.30" width="37.70" height="33.40" fill="#FAC8C8" shape-rendering="crispEdges"/>
<rect x="254.92" y="477.30" width="30.16" height="33.40" fill="#B8B8F8" shape-rendering="crispEdges"/>
<rect x="262.46" y="477.30" width="22.62" height="33.40" fill="#F24040" shape-rendering="crispEdges"/>
<rect x="270.00" y="477.30" width="15.08" height="33.40" fill="#F0F0FC" shape-rendering="crispEdges"/>
<rect x="277.54" y="477.30" width="7.54" height="33.40" fill="#F26060" shape-rendering="crispEdges"/>
<text x="286.60" y="482.68" font-size="7.2" fill="#222">LOC107789131</text>
<rect x="232.30" y="482.87" width="52.78" height="27.83" fill="#3C3CF0" shape-rendering="crispEdges"/>
<rect x="239.84" y="482.87" width="45.24" height="27.83" fill="#A0A0F6" shape-rendering="crispEdges"/>
<rect x="247.38" y="482.87" width="37.70" height="27.83" fill="#F8B0B0" shape-rendering="crispEdges"/>
<rect x="254.92" y="482.87" width="30.16" height="27.83" fill="#D0D0FA" shape-rendering="crispEdges"/>
<rect x="262.46" y="482.87" width="22.62" height="27.83" fill="#F21A1A" shape-rendering="crispEdges"/>
<rect x="270.00" y="482.87" width="15.08" height="27.83" fill="#F8F0F0" shape-rendering="crispEdges"/>
<rect x="277.54" y="482.87" width="7.54" height="27.83" fill="#D8D8FA" shape-rendering="crispEdges"/>
<text x="286.60" y="488.25" font-size="7.2" fill="#222">LOC107786515</text>
<rect x="232.30" y="488.43" width="52.78" height="22.27" fill="#9C9CF6" shape-rendering="crispEdges"/>
<rect x="239.84" y="488.43" width="45.24" height="22.27" fill="#9C9CF6" shape-rendering="crispEdges"/>
<rect x="247.38" y="488.43" width="37.70" height="22.27" fill="#F27070" shape-rendering="crispEdges"/>
<rect x="254.92" y="488.43" width="30.16" height="22.27" fill="#6060F0" shape-rendering="crispEdges"/>
<rect x="262.46" y="488.43" width="22.62" height="22.27" fill="#F26060" shape-rendering="crispEdges"/>
<rect x="270.00" y="488.43" width="15.08" height="22.27" fill="#F89090" shape-rendering="crispEdges"/>
<rect x="277.54" y="488.43" width="7.54" height="22.27" fill="#D0D0FA" shape-rendering="crispEdges"/>
<text x="286.60" y="493.82" font-size="7.2" fill="#222">LOC107804066</text>
<rect x="232.30" y="494.00" width="52.78" height="16.70" fill="#B8B8F8" shape-rendering="crispEdges"/>
<rect x="239.84" y="494.00" width="45.24" height="16.70" fill="#A8A8F6" shape-rendering="crispEdges"/>
<rect x="247.38" y="494.00" width="37.70" height="16.70" fill="#F23030" shape-rendering="crispEdges"/>
<rect x="254.92" y="494.00" width="30.16" height="16.70" fill="#7070F2" shape-rendering="crispEdges"/>
<rect x="262.46" y="494.00" width="22.62" height="16.70" fill="#F88888" shape-rendering="crispEdges"/>
<rect x="270.00" y="494.00" width="15.08" height="16.70" fill="#F8A8A8" shape-rendering="crispEdges"/>
<rect x="277.54" y="494.00" width="7.54" height="16.70" fill="#8080F2" shape-rendering="crispEdges"/>
<text x="286.60" y="499.38" font-size="7.2" fill="#222">LOC107789130</text>
<rect x="232.30" y="499.57" width="52.78" height="11.13" fill="#A8A8F6" shape-rendering="crispEdges"/>
<rect x="239.84" y="499.57" width="45.24" height="11.13" fill="#C0C0F8" shape-rendering="crispEdges"/>
<rect x="247.38" y="499.57" width="37.70" height="11.13" fill="#F21A1A" shape-rendering="crispEdges"/>
<rect x="254.92" y="499.57" width="30.16" height="11.13" fill="#8080F2" shape-rendering="crispEdges"/>
<rect x="262.46" y="499.57" width="22.62" height="11.13" fill="#FFFFFF" shape-rendering="crispEdges"/>
<rect x="270.00" y="499.57" width="15.08" height="11.13" fill="#F8A8A8" shape-rendering="crispEdges"/>
<rect x="277.54" y="499.57" width="7.54" height="11.13" fill="#A0A0F6" shape-rendering="crispEdges"/>
<text x="286.60" y="504.95" font-size="7.2" fill="#222">LOC107776404</text>
<rect x="232.30" y="505.13" width="52.78" height="5.57" fill="#E8E8FC" shape-rendering="crispEdges"/>
<rect x="239.84" y="505.13" width="45.24" height="5.57" fill="#E0E0FA" shape-rendering="crispEdges"/>
<rect x="247.38" y="505.13" width="37.70" height="5.57" fill="#F21A1A" shape-rendering="crispEdges"/>
<rect x="254.92" y="505.13" width="30.16" height="5.57" fill="#A8A8F6" shape-rendering="crispEdges"/>
<rect x="262.46" y="505.13" width="22.62" height="5.57" fill="#F8C0C0" shape-rendering="crispEdges"/>
<rect x="270.00" y="505.13" width="15.08" height="5.57" fill="#F8A8A8" shape-rendering="crispEdges"/>
<rect x="277.54" y="505.13" width="7.54" height="5.57" fill="#8080F2" shape-rendering="crispEdges"/>
<text x="286.60" y="510.52" font-size="7.2" fill="#222">LOC107783276</text>
<text x="228.60" y="498.30" font-size="8.3" text-anchor="end" font-style="italic" fill="#222">SUS</text>
<rect x="232.30" y="515.00" width="52.78" height="33.60" fill="#4040F0" shape-rendering="crispEdges"/>
<rect x="239.84" y="515.00" width="45.24" height="33.60" fill="#6868F2" shape-rendering="crispEdges"/>
<rect x="247.38" y="515.00" width="37.70" height="33.60" fill="#6868F2" shape-rendering="crispEdges"/>
<rect x="254.92" y="515.00" width="30.16" height="33.60" fill="#F88080" shape-rendering="crispEdges"/>
<rect x="262.46" y="515.00" width="22.62" height="33.60" fill="#F24040" shape-rendering="crispEdges"/>
<rect x="270.00" y="515.00" width="15.08" height="33.60" fill="#E0E0FA" shape-rendering="crispEdges"/>
<rect x="277.54" y="515.00" width="7.54" height="33.60" fill="#F24848" shape-rendering="crispEdges"/>
<text x="286.60" y="520.40" font-size="7.2" fill="#222">LOC107783674</text>
<rect x="232.30" y="520.60" width="52.78" height="28.00" fill="#4040F0" shape-rendering="crispEdges"/>
<rect x="239.84" y="520.60" width="45.24" height="28.00" fill="#8080F2" shape-rendering="crispEdges"/>
<rect x="247.38" y="520.60" width="37.70" height="28.00" fill="#D8D8FA" shape-rendering="crispEdges"/>
<rect x="254.92" y="520.60" width="30.16" height="28.00" fill="#F87070" shape-rendering="crispEdges"/>
<rect x="262.46" y="520.60" width="22.62" height="28.00" fill="#F21A1A" shape-rendering="crispEdges"/>
<rect x="270.00" y="520.60" width="15.08" height="28.00" fill="#8080F2" shape-rendering="crispEdges"/>
<rect x="277.54" y="520.60" width="7.54" height="28.00" fill="#F8A0A0" shape-rendering="crispEdges"/>
<text x="286.60" y="526.00" font-size="7.2" fill="#222">LOC107826322</text>
<rect x="232.30" y="526.20" width="52.78" height="22.40" fill="#4848F0" shape-rendering="crispEdges"/>
<rect x="239.84" y="526.20" width="45.24" height="22.40" fill="#9090F4" shape-rendering="crispEdges"/>
<rect x="247.38" y="526.20" width="37.70" height="22.40" fill="#FCE8E8" shape-rendering="crispEdges"/>
<rect x="254.92" y="526.20" width="30.16" height="22.40" fill="#F8B8B8" shape-rendering="crispEdges"/>
<rect x="262.46" y="526.20" width="22.62" height="22.40" fill="#F21A1A" shape-rendering="crispEdges"/>
<rect x="270.00" y="526.20" width="15.08" height="22.40" fill="#5858F0" shape-rendering="crispEdges"/>
<rect x="277.54" y="526.20" width="7.54" height="22.40" fill="#F89090" shape-rendering="crispEdges"/>
<text x="286.60" y="531.60" font-size="7.2" fill="#222">LOC107773878</text>
<rect x="232.30" y="531.80" width="52.78" height="16.80" fill="#4848F0" shape-rendering="crispEdges"/>
<rect x="239.84" y="531.80" width="45.24" height="16.80" fill="#8080F2" shape-rendering="crispEdges"/>
<rect x="247.38" y="531.80" width="37.70" height="16.80" fill="#FCE8E8" shape-rendering="crispEdges"/>
<rect x="254.92" y="531.80" width="30.16" height="16.80" fill="#F8C8C8" shape-rendering="crispEdges"/>
<rect x="262.46" y="531.80" width="22.62" height="16.80" fill="#F21A1A" shape-rendering="crispEdges"/>
<rect x="270.00" y="531.80" width="15.08" height="16.80" fill="#8080F2" shape-rendering="crispEdges"/>
<rect x="277.54" y="531.80" width="7.54" height="16.80" fill="#F8A8A8" shape-rendering="crispEdges"/>
<text x="286.60" y="537.20" font-size="7.2" fill="#222">LOC107805376</text>
<rect x="232.30" y="537.40" width="52.78" height="11.20" fill="#4040F0" shape-rendering="crispEdges"/>
<rect x="239.84" y="537.40" width="45.24" height="11.20" fill="#6868F2" shape-rendering="crispEdges"/>
<rect x="247.38" y="537.40" width="37.70" height="11.20" fill="#FCE8E8" shape-rendering="crispEdges"/>
<rect x="254.92" y="537.40" width="30.16" height="11.20" fill="#FCE0E0" shape-rendering="crispEdges"/>
<rect x="262.46" y="537.40" width="22.62" height="11.20" fill="#F21A1A" shape-rendering="crispEdges"/>
<rect x="270.00" y="537.40" width="15.08" height="11.20" fill="#A0A0F6" shape-rendering="crispEdges"/>
<rect x="277.54" y="537.40" width="7.54" height="11.20" fill="#F89090" shape-rendering="crispEdges"/>
<text x="286.60" y="542.80" font-size="7.2" fill="#222">LOC107808783</text>
<rect x="232.30" y="543.00" width="52.78" height="5.60" fill="#4040F0" shape-rendering="crispEdges"/>
<rect x="239.84" y="543.00" width="45.24" height="5.60" fill="#7070F2" shape-rendering="crispEdges"/>
<rect x="247.38" y="543.00" width="37.70" height="5.60" fill="#FCE8E8" shape-rendering="crispEdges"/>
<rect x="254.92" y="543.00" width="30.16" height="5.60" fill="#F8D0D0" shape-rendering="crispEdges"/>
<rect x="262.46" y="543.00" width="22.62" height="5.60" fill="#F21A1A" shape-rendering="crispEdges"/>
<rect x="270.00" y="543.00" width="15.08" height="5.60" fill="#A8A8F6" shape-rendering="crispEdges"/>
<rect x="277.54" y="543.00" width="7.54" height="5.60" fill="#F89090" shape-rendering="crispEdges"/>
<text x="286.60" y="548.40" font-size="7.2" fill="#222">LOC107825688</text>
<text x="228.60" y="535.00" font-size="8.3" text-anchor="end" font-style="italic" fill="#222">TPS</text>
<rect x="232.30" y="552.60" width="52.78" height="39.30" fill="#4848F0" shape-rendering="crispEdges"/>
<rect x="239.84" y="552.60" width="45.24" height="39.30" fill="#5858F0" shape-rendering="crispEdges"/>
<rect x="247.38" y="552.60" width="37.70" height="39.30" fill="#FCE8E8" shape-rendering="crispEdges"/>
<rect x="254.92" y="552.60" width="30.16" height="39.30" fill="#FFFFFF" shape-rendering="crispEdges"/>
<rect x="262.46" y="552.60" width="22.62" height="39.30" fill="#F21A1A" shape-rendering="crispEdges"/>
<rect x="270.00" y="552.60" width="15.08" height="39.30" fill="#B8B8F8" shape-rendering="crispEdges"/>
<rect x="277.54" y="552.60" width="7.54" height="39.30" fill="#F89090" shape-rendering="crispEdges"/>
<text x="286.60" y="558.01" font-size="7.2" fill="#222">LOC107762039</text>
<rect x="232.30" y="558.21" width="52.78" height="33.69" fill="#4040F0" shape-rendering="crispEdges"/>
<rect x="239.84" y="558.21" width="45.24" height="33.69" fill="#5050F0" shape-rendering="crispEdges"/>
<rect x="247.38" y="558.21" width="37.70" height="33.69" fill="#F8C8C8" shape-rendering="crispEdges"/>
<rect x="254.92" y="558.21" width="30.16" height="33.69" fill="#F88080" shape-rendering="crispEdges"/>
<rect x="262.46" y="558.21" width="22.62" height="33.69" fill="#F22020" shape-rendering="crispEdges"/>
<rect x="270.00" y="558.21" width="15.08" height="33.69" fill="#8080F2" shape-rendering="crispEdges"/>
<rect x="277.54" y="558.21" width="7.54" height="33.69" fill="#F8A0A0" shape-rendering="crispEdges"/>
<text x="286.60" y="563.62" font-size="7.2" fill="#222">LOC107828979</text>
<rect x="232.30" y="563.83" width="52.78" height="28.07" fill="#4848F0" shape-rendering="crispEdges"/>
<rect x="239.84" y="563.83" width="45.24" height="28.07" fill="#5858F0" shape-rendering="crispEdges"/>
<rect x="247.38" y="563.83" width="37.70" height="28.07" fill="#E0E0FA" shape-rendering="crispEdges"/>
<rect x="254.92" y="563.83" width="30.16" height="28.07" fill="#F8D0D0" shape-rendering="crispEdges"/>
<rect x="262.46" y="563.83" width="22.62" height="28.07" fill="#F24848" shape-rendering="crispEdges"/>
<rect x="270.00" y="563.83" width="15.08" height="28.07" fill="#D0D0FA" shape-rendering="crispEdges"/>
<rect x="277.54" y="563.83" width="7.54" height="28.07" fill="#F21A1A" shape-rendering="crispEdges"/>
<text x="286.60" y="569.24" font-size="7.2" fill="#222">LOC107814858</text>
<rect x="232.30" y="569.44" width="52.78" height="22.46" fill="#4848F0" shape-rendering="crispEdges"/>
<rect x="239.84" y="569.44" width="45.24" height="22.46" fill="#7070F2" shape-rendering="crispEdges"/>
<rect x="247.38" y="569.44" width="37.70" height="22.46" fill="#F23030" shape-rendering="crispEdges"/>
<rect x="254.92" y="569.44" width="30.16" height="22.46" fill="#F8B0B0" shape-rendering="crispEdges"/>
<rect x="262.46" y="569.44" width="22.62" height="22.46" fill="#F88080" shape-rendering="crispEdges"/>
<rect x="270.00" y="569.44" width="15.08" height="22.46" fill="#4848F0" shape-rendering="crispEdges"/>
<rect x="277.54" y="569.44" width="7.54" height="22.46" fill="#F8C0C0" shape-rendering="crispEdges"/>
<text x="286.60" y="574.85" font-size="7.2" fill="#222">LOC107783328</text>
<rect x="232.30" y="575.06" width="52.78" height="16.84" fill="#4848F0" shape-rendering="crispEdges"/>
<rect x="239.84" y="575.06" width="45.24" height="16.84" fill="#7878F2" shape-rendering="crispEdges"/>
<rect x="247.38" y="575.06" width="37.70" height="16.84" fill="#F89090" shape-rendering="crispEdges"/>
<rect x="254.92" y="575.06" width="30.16" height="16.84" fill="#F88080" shape-rendering="crispEdges"/>
<rect x="262.46" y="575.06" width="22.62" height="16.84" fill="#F8B8B8" shape-rendering="crispEdges"/>
<rect x="270.00" y="575.06" width="15.08" height="16.84" fill="#4848F0" shape-rendering="crispEdges"/>
<rect x="277.54" y="575.06" width="7.54" height="16.84" fill="#F23838" shape-rendering="crispEdges"/>
<text x="286.60" y="580.46" font-size="7.2" fill="#222">LOC107790906</text>
<rect x="232.30" y="580.67" width="52.78" height="11.23" fill="#4848F0" shape-rendering="crispEdges"/>
<rect x="239.84" y="580.67" width="45.24" height="11.23" fill="#5858F0" shape-rendering="crispEdges"/>
<rect x="247.38" y="580.67" width="37.70" height="11.23" fill="#F87070" shape-rendering="crispEdges"/>
<rect x="254.92" y="580.67" width="30.16" height="11.23" fill="#7878F2" shape-rendering="crispEdges"/>
<rect x="262.46" y="580.67" width="22.62" height="11.23" fill="#F23030" shape-rendering="crispEdges"/>
<rect x="270.00" y="580.67" width="15.08" height="11.23" fill="#F8B0B0" shape-rendering="crispEdges"/>
<rect x="277.54" y="580.67" width="7.54" height="11.23" fill="#FCE0E0" shape-rendering="crispEdges"/>
<text x="286.60" y="586.08" font-size="7.2" fill="#222">LOC107797277</text>
<rect x="232.30" y="586.29" width="52.78" height="5.61" fill="#C0C0F8" shape-rendering="crispEdges"/>
<rect x="239.84" y="586.29" width="45.24" height="5.61" fill="#F0F0FC" shape-rendering="crispEdges"/>
<rect x="247.38" y="586.29" width="37.70" height="5.61" fill="#F21A1A" shape-rendering="crispEdges"/>
<rect x="254.92" y="586.29" width="30.16" height="5.61" fill="#7878F2" shape-rendering="crispEdges"/>
<rect x="262.46" y="586.29" width="22.62" height="5.61" fill="#1A1AF0" shape-rendering="crispEdges"/>
<rect x="270.00" y="586.29" width="15.08" height="5.61" fill="#F87070" shape-rendering="crispEdges"/>
<rect x="277.54" y="586.29" width="7.54" height="5.61" fill="#FCE8E8" shape-rendering="crispEdges"/>
<text x="286.60" y="591.69" font-size="7.2" fill="#222">LOC107782340</text>
<text x="228.60" y="575.65" font-size="8.3" text-anchor="end" font-style="italic" fill="#222">TPP</text>
<rect x="232.30" y="595.60" width="52.78" height="10.90" fill="#3838F0" shape-rendering="crispEdges"/>
<rect x="239.84" y="595.60" width="45.24" height="10.90" fill="#A0A0F6" shape-rendering="crispEdges"/>
<rect x="247.38" y="595.60" width="37.70" height="10.90" fill="#FFFFFF" shape-rendering="crispEdges"/>
<rect x="254.92" y="595.60" width="30.16" height="10.90" fill="#FFFFFF" shape-rendering="crispEdges"/>
<rect x="262.46" y="595.60" width="22.62" height="10.90" fill="#F21A1A" shape-rendering="crispEdges"/>
<rect x="270.00" y="595.60" width="15.08" height="10.90" fill="#FCF0F0" shape-rendering="crispEdges"/>
<rect x="277.54" y="595.60" width="7.54" height="10.90" fill="#FCE0E0" shape-rendering="crispEdges"/>
<text x="286.60" y="600.93" font-size="7.2" fill="#222">LOC107780856</text>
<rect x="232.30" y="601.05" width="52.78" height="5.45" fill="#5858F0" shape-rendering="crispEdges"/>
<rect x="239.84" y="601.05" width="45.24" height="5.45" fill="#7070F2" shape-rendering="crispEdges"/>
<rect x="247.38" y="601.05" width="37.70" height="5.45" fill="#F8C0C0" shape-rendering="crispEdges"/>
<rect x="254.92" y="601.05" width="30.16" height="5.45" fill="#FFFFFF" shape-rendering="crispEdges"/>
<rect x="262.46" y="601.05" width="22.62" height="5.45" fill="#F21A1A" shape-rendering="crispEdges"/>
<rect x="270.00" y="601.05" width="15.08" height="5.45" fill="#FFFFFF" shape-rendering="crispEdges"/>
<rect x="277.54" y="601.05" width="7.54" height="5.45" fill="#E0E0FA" shape-rendering="crispEdges"/>
<text x="286.60" y="606.38" font-size="7.2" fill="#222">LOC107788280</text>
<text x="228.60" y="604.45" font-size="8.3" text-anchor="end" font-style="italic" fill="#222">HXK</text>
<rect x="232.30" y="610.00" width="52.78" height="5.90" fill="#8080F2" shape-rendering="crispEdges"/>
<rect x="239.84" y="610.00" width="45.24" height="5.90" fill="#4848F0" shape-rendering="crispEdges"/>
<rect x="247.38" y="610.00" width="37.70" height="5.90" fill="#F21A1A" shape-rendering="crispEdges"/>
<rect x="254.92" y="610.00" width="30.16" height="5.90" fill="#4848F0" shape-rendering="crispEdges"/>
<rect x="262.46" y="610.00" width="22.62" height="5.90" fill="#F8A0A0" shape-rendering="crispEdges"/>
<rect x="270.00" y="610.00" width="15.08" height="5.90" fill="#F23030" shape-rendering="crispEdges"/>
<rect x="277.54" y="610.00" width="7.54" height="5.90" fill="#B0B0F8" shape-rendering="crispEdges"/>
<text x="286.60" y="615.55" font-size="7.2" fill="#222">LOC107827280</text>
<text x="228.60" y="615.95" font-size="8.2" text-anchor="end" font-style="italic" fill="#222">BGLU5</text>
<rect x="232.30" y="619.30" width="52.78" height="5.80" fill="#FCE0E0" shape-rendering="crispEdges"/>
<rect x="239.84" y="619.30" width="45.24" height="5.80" fill="#F8A8A8" shape-rendering="crispEdges"/>
<rect x="247.38" y="619.30" width="37.70" height="5.80" fill="#F23030" shape-rendering="crispEdges"/>
<rect x="254.92" y="619.30" width="30.16" height="5.80" fill="#B0B0F8" shape-rendering="crispEdges"/>
<rect x="262.46" y="619.30" width="22.62" height="5.80" fill="#9090F4" shape-rendering="crispEdges"/>
<rect x="270.00" y="619.30" width="15.08" height="5.80" fill="#FCE8E8" shape-rendering="crispEdges"/>
<rect x="277.54" y="619.30" width="7.54" height="5.80" fill="#4848F0" shape-rendering="crispEdges"/>
<text x="286.60" y="624.80" font-size="7.2" fill="#222">LOC107770331</text>
<text x="228.60" y="625.20" font-size="8.0" text-anchor="end" font-style="italic" fill="#222">SnRK1</text>
<text x="236.47" y="633.00" font-size="7.0" text-anchor="end" transform="rotate(-45 236.47 633.00)">0</text>
<text x="244.31" y="633.00" font-size="7.0" text-anchor="end" transform="rotate(-45 244.31 633.00)">0.5</text>
<text x="252.15" y="633.00" font-size="7.0" text-anchor="end" transform="rotate(-45 252.15 633.00)">1</text>
<text x="259.99" y="633.00" font-size="7.0" text-anchor="end" transform="rotate(-45 259.99 633.00)">6</text>
<text x="267.83" y="633.00" font-size="7.0" text-anchor="end" transform="rotate(-45 267.83 633.00)">12</text>
<text x="275.67" y="633.00" font-size="7.0" text-anchor="end" transform="rotate(-45 275.67 633.00)">24</text>
<text x="283.51" y="633.00" font-size="7.0" text-anchor="end" transform="rotate(-45 283.51 633.00)">36</text>
<text x="289.40" y="636.60" font-size="7.0">Time/h</text>
<rect x="345.90" y="557.70" width="5.00" height="35.00" fill="url(#ge)"/>
<text x="353.00" y="560.10" font-size="6.9">2</text>
<text x="353.00" y="568.85" font-size="6.9">1</text>
<text x="353.00" y="577.60" font-size="6.9">0</text>
<text x="353.00" y="586.35" font-size="6.9">−1</text>
<text x="353.00" y="595.10" font-size="6.9">−2</text>
</svg></body></html>
